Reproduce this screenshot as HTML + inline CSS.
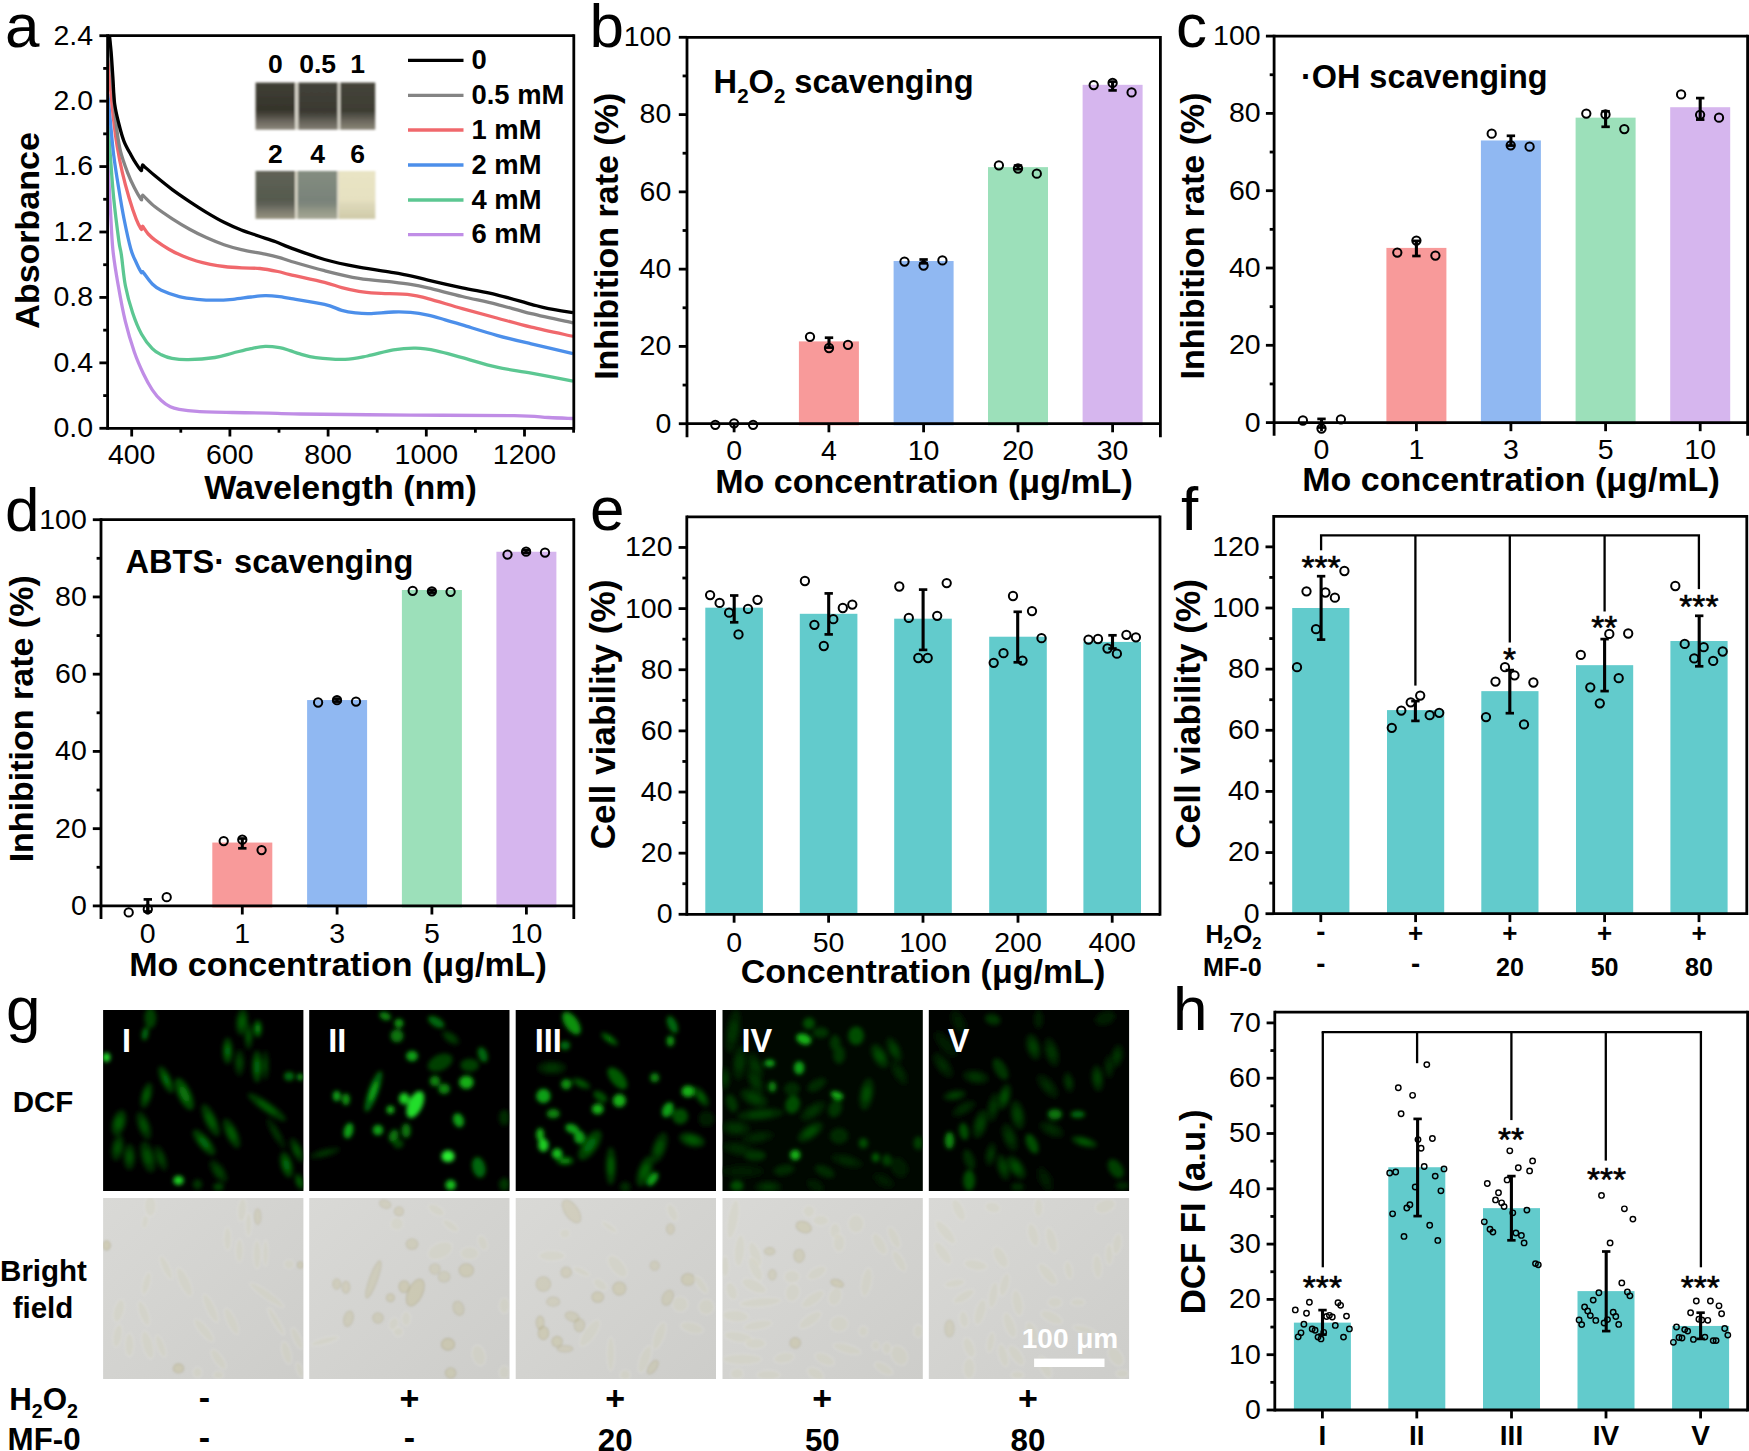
<!DOCTYPE html>
<html lang="en"><head><meta charset="utf-8"><title>Figure</title>
<style>html,body{margin:0;padding:0;background:#fff}svg{display:block}text{font-family:'Liberation Sans', Arial, sans-serif}</style>
</head><body>
<svg width="1749" height="1451" viewBox="0 0 1749 1451">
<rect width="1749" height="1451" fill="#fff"/>
<defs>
<filter id="b2" x="-20%" y="-20%" width="140%" height="140%"><feGaussianBlur stdDeviation="2.1"/></filter>
<filter id="b1" x="-20%" y="-20%" width="140%" height="140%"><feGaussianBlur stdDeviation="0.9"/></filter>
<filter id="b3" x="-20%" y="-20%" width="140%" height="140%"><feGaussianBlur stdDeviation="0.8"/></filter>
<linearGradient id="bfg" x1="0" y1="0" x2="1" y2="1"><stop offset="0" stop-color="#d9d9d6"/><stop offset="1" stop-color="#cdcdca"/></linearGradient>
</defs>
<clipPath id="ca"><rect x="107.6" y="35.7" width="466.2" height="392.6"/></clipPath>
<g clip-path="url(#ca)" fill="none" stroke-width="3.3" stroke-linejoin="round">
<path d="M107.9,162.8C108.3,170.13 109.47,192.28 110.3,206.8C111.13,221.32 111.57,236.73 112.9,249.9C114.23,263.07 116.22,273.83 118.3,285.8C120.38,297.77 122.72,310.63 125.4,321.7C128.08,332.77 131.4,343.53 134.4,352.2C137.4,360.87 140.42,367.43 143.4,373.7C146.38,379.97 149.32,385.33 152.3,389.8C155.28,394.27 158.3,397.67 161.3,400.5C164.3,403.33 167.32,405.33 170.3,406.8C173.28,408.27 174.73,408.55 179.2,409.3C183.67,410.05 188.13,410.77 197.1,411.3C206.07,411.83 221.05,412.2 233,412.5C244.95,412.8 257.63,412.85 268.8,413.1C279.97,413.35 276.37,413.67 300,414C323.63,414.33 374.93,414.83 410.6,415.1C446.27,415.37 491.02,415.2 514,415.6C536.98,416 538.67,417.02 548.5,417.5C558.33,417.98 568.92,418.33 573,418.5" stroke="#C08DE6"/>
<path d="M107.9,121.5C108.3,127.1 109.33,142.32 110.3,155.1C111.27,167.88 112.27,183.85 113.7,198.2C115.13,212.55 117.62,231.73 118.9,241.2C120.18,250.67 120.32,247.57 121.4,255C122.48,262.43 123.53,276.18 125.4,285.8C127.27,295.42 129.9,304.63 132.6,312.7C135.3,320.77 138.32,328.22 141.6,334.2C144.88,340.18 149.02,345.17 152.3,348.6C155.58,352.03 158.02,353.17 161.3,354.8C164.58,356.43 167.52,357.58 172,358.4C176.48,359.22 181.03,359.85 188.2,359.7C195.37,359.55 207.53,358.62 215,357.5C222.47,356.38 227.02,354.48 233,353C238.98,351.52 245.53,349.7 250.9,348.6C256.27,347.5 260.42,346.55 265.2,346.4C269.98,346.25 275.47,347 279.6,347.7C283.73,348.4 286.6,349.57 290,350.6C293.4,351.63 295.7,352.72 300,353.9C304.3,355.08 308.28,356.78 315.8,357.7C323.32,358.62 336.48,359.68 345.1,359.4C353.72,359.12 359.45,357.58 367.5,356C375.55,354.42 385.35,351.2 393.4,349.9C401.45,348.6 408.62,348.05 415.8,348.2C422.98,348.35 428.75,349.22 436.5,350.8C444.25,352.38 452.25,354.97 462.3,357.7C472.35,360.43 485.3,364.62 496.8,367.2C508.3,369.78 518.6,370.88 531.3,373.2C544,375.52 566.05,379.78 573,381.1" stroke="#5CC792"/>
<path d="M107.9,93.9C108.3,98.35 109.33,110.4 110.3,120.6C111.27,130.8 112.27,143.6 113.7,155.1C115.13,166.6 117.18,178.98 118.9,189.6C120.62,200.22 122.02,208.9 124,218.8C125.98,228.7 128.77,241.72 130.8,249C132.83,256.28 134.47,258.63 136.2,262.5C137.93,266.37 140.17,270.68 141.2,272.2C142.23,273.72 141.93,271.4 142.4,271.6C142.87,271.8 142.35,271.33 144,273.4C145.65,275.47 149.42,281.18 152.3,284C155.18,286.82 156.82,288.2 161.3,290.3C165.78,292.4 173.23,295.1 179.2,296.6C185.17,298.1 191.13,298.7 197.1,299.3C203.07,299.9 209.02,300.2 215,300.2C220.98,300.2 227.02,299.83 233,299.3C238.98,298.77 245.53,297.6 250.9,297C256.27,296.4 260.42,295.77 265.2,295.7C269.98,295.63 275.47,296.15 279.6,296.6C283.73,297.05 282.52,297.12 290,298.4C297.48,299.68 315.88,302.32 324.5,304.3C333.12,306.28 336.53,308.87 341.7,310.3C346.87,311.73 350.9,312.33 355.5,312.9C360.1,313.47 362.98,313.85 369.3,313.7C375.62,313.55 386.52,312.22 393.4,312C400.28,311.78 404.85,311.88 410.6,312.4C416.35,312.92 422.15,313.87 427.9,315.1C433.65,316.33 439.37,318.17 445.1,319.8C450.83,321.43 453.68,322.32 462.3,324.9C470.92,327.48 485.3,332.13 496.8,335.3C508.3,338.47 518.6,340.85 531.3,343.9C544,346.95 566.05,351.98 573,353.6" stroke="#4C8FEA"/>
<path d="M107.9,59.4C108.3,63.87 109.33,76 110.3,86.2C111.27,96.4 112.55,110.55 113.7,120.6C114.85,130.65 115.77,137.88 117.2,146.5C118.63,155.12 120.3,163.68 122.3,172.3C124.3,180.92 126.9,190.45 129.2,198.2C131.5,205.95 134.13,213.67 136.1,218.8C138.07,223.93 140.08,227.4 141,229C141.92,230.6 141.33,228.88 141.6,228.4C141.87,227.92 142.2,226.13 142.6,226.1C143,226.07 143.07,226.88 144,228.2C144.93,229.52 146.35,232.02 148.2,234C150.05,235.98 151.65,237.57 155.1,240.1C158.55,242.63 164.3,246.53 168.9,249.2C173.5,251.87 178.1,254.13 182.7,256.1C187.3,258.07 191.9,259.63 196.5,261C201.1,262.37 205.72,263.38 210.3,264.3C214.88,265.22 218.73,265.9 224,266.5C229.27,267.1 235.92,267.57 241.9,267.9C247.88,268.23 253.92,267.9 259.9,268.5C265.88,269.1 272.78,270.48 277.8,271.5C282.82,272.52 282.22,272.78 290,274.6C297.78,276.42 315.88,280.23 324.5,282.4C333.12,284.57 335.97,286.12 341.7,287.6C347.43,289.08 353.15,290.38 358.9,291.3C364.65,292.22 367.58,292.52 376.2,293.1C384.82,293.68 401.98,293.88 410.6,294.8C419.22,295.72 419.28,296.3 427.9,298.6C436.52,300.9 450.82,305.37 462.3,308.6C473.78,311.83 485.3,314.9 496.8,318C508.3,321.1 518.6,324.15 531.3,327.2C544,330.25 566.05,334.78 573,336.3" stroke="#F0686C"/>
<path d="M108.2,20C108.43,23.33 108.97,30.83 109.6,40C110.23,49.17 111.17,63.67 112,75C112.83,86.33 113.77,98.67 114.6,108C115.43,117.33 116,123.73 117,131C118,138.27 118.85,144.72 120.6,151.6C122.35,158.48 125.2,166.27 127.5,172.3C129.8,178.33 132.15,183.32 134.4,187.8C136.65,192.28 139.8,197.5 141,199.2C142.2,200.9 141.33,198.63 141.6,198C141.87,197.37 142.2,195.67 142.6,195.4C143,195.13 141.93,194.5 144,196.4C146.07,198.3 150.28,203.07 155,206.8C159.72,210.53 166.53,215.07 172.3,218.8C178.07,222.53 183.85,226.03 189.6,229.2C195.35,232.37 201.07,235.22 206.8,237.8C212.53,240.38 218.25,242.73 224,244.7C229.75,246.67 234.43,248.02 241.3,249.6C248.17,251.18 258.82,252.87 265.2,254.2C271.58,255.53 275.47,256.47 279.6,257.6C283.73,258.73 282.52,258.82 290,261C297.48,263.18 313.02,267.8 324.5,270.7C335.98,273.6 347.42,276.5 358.9,278.4C370.38,280.3 384.78,281.1 393.4,282.1C402.02,283.1 404.85,283.43 410.6,284.4C416.35,285.37 419.28,285.88 427.9,287.9C436.52,289.92 450.82,293.77 462.3,296.5C473.78,299.23 485.3,301.43 496.8,304.3C508.3,307.17 518.6,310.6 531.3,313.7C544,316.8 566.05,321.37 573,322.9" stroke="#848484"/>
<path d="M107.9,20C108.17,22.67 108.97,30.72 109.5,36C110.03,41.28 110.53,44.78 111.1,51.7C111.67,58.62 112.32,68.88 112.9,77.5C113.48,86.12 113.6,95.65 114.6,103.4C115.6,111.15 117.33,117.68 118.9,124C120.47,130.32 121.98,136.13 124,141.3C126.02,146.47 128.98,151.27 131,155C133.02,158.73 134.43,161.13 136.1,163.7C137.77,166.27 140.08,169.52 141,170.4C141.92,171.28 141.33,169.87 141.6,169C141.87,168.13 142.2,165.67 142.6,165.2C143,164.73 141.93,164.43 144,166.2C146.07,167.97 150.28,171.9 155,175.8C159.72,179.7 166.53,185.3 172.3,189.6C178.07,193.9 183.85,197.77 189.6,201.6C195.35,205.43 201.07,209.15 206.8,212.6C212.53,216.05 218.25,219.4 224,222.3C229.75,225.2 235.55,227.72 241.3,230C247.05,232.28 252.77,234.03 258.5,236C264.23,237.97 270.45,239.87 275.7,241.8C280.95,243.73 281.87,244.65 290,247.6C298.13,250.55 313.02,256.23 324.5,259.5C335.98,262.77 347.42,265.02 358.9,267.2C370.38,269.38 384.78,271.17 393.4,272.6C402.02,274.03 404.85,274.55 410.6,275.8C416.35,277.05 419.28,278.08 427.9,280.1C436.52,282.12 450.82,285.45 462.3,287.9C473.78,290.35 485.3,292.07 496.8,294.8C508.3,297.53 522.68,302 531.3,304.3C539.92,306.6 541.55,307.22 548.5,308.6C555.45,309.98 568.92,311.93 573,312.6" stroke="#000000"/>
</g>
<linearGradient id="vg0" x1="0" y1="0" x2="0" y2="1"><stop offset="0" stop-color="#403f35"/><stop offset="0.58" stop-color="#35342b"/><stop offset="0.68" stop-color="#48463d"/><stop offset="0.8" stop-color="#67635a"/><stop offset="1" stop-color="#8c877b"/></linearGradient>
<linearGradient id="vg1" x1="0" y1="0" x2="0" y2="1"><stop offset="0" stop-color="#43423a"/><stop offset="0.6" stop-color="#3a3931"/><stop offset="0.7" stop-color="#4a4840"/><stop offset="0.82" stop-color="#646158"/><stop offset="1" stop-color="#827e73"/></linearGradient>
<linearGradient id="vg2" x1="0" y1="0" x2="0" y2="1"><stop offset="0" stop-color="#45443a"/><stop offset="0.6" stop-color="#3e3d33"/><stop offset="0.7" stop-color="#535148"/><stop offset="0.82" stop-color="#6d695e"/><stop offset="1" stop-color="#8a8678"/></linearGradient>
<linearGradient id="vg3" x1="0" y1="0" x2="0" y2="1"><stop offset="0" stop-color="#5f6256"/><stop offset="0.6" stop-color="#565a4e"/><stop offset="0.7" stop-color="#606258"/><stop offset="0.82" stop-color="#79786c"/><stop offset="1" stop-color="#95927f"/></linearGradient>
<linearGradient id="vg4" x1="0" y1="0" x2="0" y2="1"><stop offset="0" stop-color="#848d80"/><stop offset="0.6" stop-color="#79837a"/><stop offset="0.7" stop-color="#7f877c"/><stop offset="0.82" stop-color="#929787"/><stop offset="1" stop-color="#a5a795"/></linearGradient>
<linearGradient id="vg5" x1="0" y1="0" x2="0" y2="1"><stop offset="0" stop-color="#e9e4c4"/><stop offset="0.6" stop-color="#e6e1c1"/><stop offset="0.7" stop-color="#ddd8b9"/><stop offset="0.82" stop-color="#d8d3b3"/><stop offset="1" stop-color="#cfcaa8"/></linearGradient>
<g filter="url(#b3)">
<rect x="255.6" y="82.6" width="119.6" height="47" fill="#d6d3c8"/>
<rect x="255.6" y="171" width="119.6" height="47.8" fill="#dad7c8"/>
<rect x="255.6" y="82.6" width="39.4" height="47" fill="url(#vg0)"/>
<rect x="298.4" y="82.6" width="39.2" height="47" fill="url(#vg1)"/>
<rect x="340.4" y="82.6" width="34.8" height="47" fill="url(#vg2)"/>
<rect x="255.6" y="171" width="39.4" height="47.8" fill="url(#vg3)"/>
<rect x="297.6" y="171" width="39.4" height="47.8" fill="url(#vg4)"/>
<rect x="339" y="171" width="36.2" height="47.8" fill="url(#vg5)"/>
</g>
<text x="275.3" y="73.2" font-size="26.5" text-anchor="middle" font-weight="700">0</text>
<text x="317.6" y="73.2" font-size="26.5" text-anchor="middle" font-weight="700">0.5</text>
<text x="357.6" y="73.2" font-size="26.5" text-anchor="middle" font-weight="700">1</text>
<text x="275.3" y="163" font-size="26.5" text-anchor="middle" font-weight="700">2</text>
<text x="317.6" y="163" font-size="26.5" text-anchor="middle" font-weight="700">4</text>
<text x="357.6" y="163" font-size="26.5" text-anchor="middle" font-weight="700">6</text>
<line x1="408" y1="60.3" x2="463.5" y2="60.3" stroke="#000000" stroke-width="3.3"/>
<text x="471.5" y="69" font-size="27.4" font-weight="700">0</text>
<line x1="408" y1="95.3" x2="463.5" y2="95.3" stroke="#848484" stroke-width="3.3"/>
<text x="471.5" y="104" font-size="27.4" font-weight="700">0.5 mM</text>
<line x1="408" y1="130" x2="463.5" y2="130" stroke="#F0686C" stroke-width="3.3"/>
<text x="471.5" y="138.7" font-size="27.4" font-weight="700">1 mM</text>
<line x1="408" y1="165" x2="463.5" y2="165" stroke="#4C8FEA" stroke-width="3.3"/>
<text x="471.5" y="173.7" font-size="27.4" font-weight="700">2 mM</text>
<line x1="408" y1="200" x2="463.5" y2="200" stroke="#5CC792" stroke-width="3.3"/>
<text x="471.5" y="208.7" font-size="27.4" font-weight="700">4 mM</text>
<line x1="408" y1="234.6" x2="463.5" y2="234.6" stroke="#C08DE6" stroke-width="3.3"/>
<text x="471.5" y="243.3" font-size="27.4" font-weight="700">6 mM</text>
<line x1="107.6" y1="34.3" x2="107.6" y2="429.7" stroke="#000" stroke-width="2.8"/>
<line x1="573.8" y1="34.3" x2="573.8" y2="429.7" stroke="#000" stroke-width="2.8"/>
<line x1="107.6" y1="35.7" x2="573.8" y2="35.7" stroke="#000" stroke-width="2.8"/>
<line x1="107.6" y1="428.3" x2="573.8" y2="428.3" stroke="#000" stroke-width="2.8"/>
<line x1="99.4" y1="428.3" x2="107.6" y2="428.3" stroke="#000" stroke-width="2.8"/>
<text x="93.1" y="437.2" font-size="28.5" text-anchor="end">0.0</text>
<line x1="103.2" y1="395.58" x2="107.6" y2="395.58" stroke="#000" stroke-width="2.8"/>
<line x1="99.4" y1="362.87" x2="107.6" y2="362.87" stroke="#000" stroke-width="2.8"/>
<text x="93.1" y="371.77" font-size="28.5" text-anchor="end">0.4</text>
<line x1="103.2" y1="330.15" x2="107.6" y2="330.15" stroke="#000" stroke-width="2.8"/>
<line x1="99.4" y1="297.43" x2="107.6" y2="297.43" stroke="#000" stroke-width="2.8"/>
<text x="93.1" y="306.33" font-size="28.5" text-anchor="end">0.8</text>
<line x1="103.2" y1="264.72" x2="107.6" y2="264.72" stroke="#000" stroke-width="2.8"/>
<line x1="99.4" y1="232" x2="107.6" y2="232" stroke="#000" stroke-width="2.8"/>
<text x="93.1" y="240.9" font-size="28.5" text-anchor="end">1.2</text>
<line x1="103.2" y1="199.28" x2="107.6" y2="199.28" stroke="#000" stroke-width="2.8"/>
<line x1="99.4" y1="166.57" x2="107.6" y2="166.57" stroke="#000" stroke-width="2.8"/>
<text x="93.1" y="175.47" font-size="28.5" text-anchor="end">1.6</text>
<line x1="103.2" y1="133.85" x2="107.6" y2="133.85" stroke="#000" stroke-width="2.8"/>
<line x1="99.4" y1="101.13" x2="107.6" y2="101.13" stroke="#000" stroke-width="2.8"/>
<text x="93.1" y="110.03" font-size="28.5" text-anchor="end">2.0</text>
<line x1="103.2" y1="68.42" x2="107.6" y2="68.42" stroke="#000" stroke-width="2.8"/>
<line x1="99.4" y1="35.7" x2="107.6" y2="35.7" stroke="#000" stroke-width="2.8"/>
<text x="93.1" y="44.6" font-size="28.5" text-anchor="end">2.4</text>
<line x1="131.7" y1="428.3" x2="131.7" y2="436.5" stroke="#000" stroke-width="2.8"/>
<text x="131.7" y="464.2" font-size="28.5" text-anchor="middle">400</text>
<line x1="229.9" y1="428.3" x2="229.9" y2="436.5" stroke="#000" stroke-width="2.8"/>
<text x="229.9" y="464.2" font-size="28.5" text-anchor="middle">600</text>
<line x1="328.1" y1="428.3" x2="328.1" y2="436.5" stroke="#000" stroke-width="2.8"/>
<text x="328.1" y="464.2" font-size="28.5" text-anchor="middle">800</text>
<line x1="426.3" y1="428.3" x2="426.3" y2="436.5" stroke="#000" stroke-width="2.8"/>
<text x="426.3" y="464.2" font-size="28.5" text-anchor="middle">1000</text>
<line x1="524.5" y1="428.3" x2="524.5" y2="436.5" stroke="#000" stroke-width="2.8"/>
<text x="524.5" y="464.2" font-size="28.5" text-anchor="middle">1200</text>
<line x1="180.8" y1="428.3" x2="180.8" y2="432.7" stroke="#000" stroke-width="2.8"/>
<line x1="279" y1="428.3" x2="279" y2="432.7" stroke="#000" stroke-width="2.8"/>
<line x1="377.2" y1="428.3" x2="377.2" y2="432.7" stroke="#000" stroke-width="2.8"/>
<line x1="475.4" y1="428.3" x2="475.4" y2="432.7" stroke="#000" stroke-width="2.8"/>
<line x1="573.6" y1="428.3" x2="573.6" y2="432.7" stroke="#000" stroke-width="2.8"/>
<text x="340.6" y="499.4" font-size="34" text-anchor="middle" font-weight="700">Wavelength (nm)</text>
<text x="39.2" y="230.4" font-size="34" text-anchor="middle" font-weight="700" transform="rotate(-90 39.2 230.4)">Absorbance</text>
<text x="5" y="46.5" font-size="62">a</text>
<rect x="798.9" y="341.4" width="60" height="83.9" fill="#F89A9A"/>
<rect x="893.6" y="261.03" width="60" height="164.27" fill="#90B8F2"/>
<rect x="988" y="167.13" width="60" height="258.17" fill="#9CE0BA"/>
<rect x="1082.6" y="84.83" width="60" height="340.47" fill="#D6B6EE"/>
<line x1="687" y1="35.9" x2="687" y2="437.2" stroke="#000" stroke-width="2.8"/>
<line x1="1160.4" y1="35.9" x2="1160.4" y2="437.2" stroke="#000" stroke-width="2.8"/>
<line x1="687" y1="37.3" x2="1160.4" y2="37.3" stroke="#000" stroke-width="2.8"/>
<line x1="687" y1="423.7" x2="1160.4" y2="423.7" stroke="#000" stroke-width="2.8"/>
<line x1="678.8" y1="423.7" x2="687" y2="423.7" stroke="#000" stroke-width="2.8"/>
<text x="671.3" y="432.6" font-size="28.5" text-anchor="end">0</text>
<line x1="682.6" y1="385.06" x2="687" y2="385.06" stroke="#000" stroke-width="2.8"/>
<line x1="678.8" y1="346.42" x2="687" y2="346.42" stroke="#000" stroke-width="2.8"/>
<text x="671.3" y="355.32" font-size="28.5" text-anchor="end">20</text>
<line x1="682.6" y1="307.78" x2="687" y2="307.78" stroke="#000" stroke-width="2.8"/>
<line x1="678.8" y1="269.14" x2="687" y2="269.14" stroke="#000" stroke-width="2.8"/>
<text x="671.3" y="278.04" font-size="28.5" text-anchor="end">40</text>
<line x1="682.6" y1="230.5" x2="687" y2="230.5" stroke="#000" stroke-width="2.8"/>
<line x1="678.8" y1="191.86" x2="687" y2="191.86" stroke="#000" stroke-width="2.8"/>
<text x="671.3" y="200.76" font-size="28.5" text-anchor="end">60</text>
<line x1="682.6" y1="153.22" x2="687" y2="153.22" stroke="#000" stroke-width="2.8"/>
<line x1="678.8" y1="114.58" x2="687" y2="114.58" stroke="#000" stroke-width="2.8"/>
<text x="671.3" y="123.48" font-size="28.5" text-anchor="end">80</text>
<line x1="682.6" y1="75.94" x2="687" y2="75.94" stroke="#000" stroke-width="2.8"/>
<line x1="678.8" y1="37.3" x2="687" y2="37.3" stroke="#000" stroke-width="2.8"/>
<text x="671.3" y="46.2" font-size="28.5" text-anchor="end">100</text>
<line x1="734.1" y1="423.7" x2="734.1" y2="432.3" stroke="#000" stroke-width="2.8"/>
<text x="734.1" y="459.8" font-size="28.5" text-anchor="middle">0</text>
<line x1="828.9" y1="423.7" x2="828.9" y2="432.3" stroke="#000" stroke-width="2.8"/>
<text x="828.9" y="459.8" font-size="28.5" text-anchor="middle">4</text>
<line x1="923.6" y1="423.7" x2="923.6" y2="432.3" stroke="#000" stroke-width="2.8"/>
<text x="923.6" y="459.8" font-size="28.5" text-anchor="middle">10</text>
<line x1="1018" y1="423.7" x2="1018" y2="432.3" stroke="#000" stroke-width="2.8"/>
<text x="1018" y="459.8" font-size="28.5" text-anchor="middle">20</text>
<line x1="1112.6" y1="423.7" x2="1112.6" y2="432.3" stroke="#000" stroke-width="2.8"/>
<text x="1112.6" y="459.8" font-size="28.5" text-anchor="middle">30</text>
<line x1="829" y1="337.7" x2="829" y2="347.6" stroke="#000" stroke-width="3.1"/>
<line x1="824.8" y1="337.7" x2="833.2" y2="337.7" stroke="#000" stroke-width="2.7"/>
<line x1="824.8" y1="347.6" x2="833.2" y2="347.6" stroke="#000" stroke-width="2.7"/>
<line x1="923.6" y1="259.5" x2="923.6" y2="263.3" stroke="#000" stroke-width="3.1"/>
<line x1="919.4" y1="259.5" x2="927.8" y2="259.5" stroke="#000" stroke-width="2.7"/>
<line x1="919.4" y1="263.3" x2="927.8" y2="263.3" stroke="#000" stroke-width="2.7"/>
<line x1="1018" y1="165.6" x2="1018" y2="169.2" stroke="#000" stroke-width="3.1"/>
<line x1="1013.8" y1="165.6" x2="1022.2" y2="165.6" stroke="#000" stroke-width="2.7"/>
<line x1="1013.8" y1="169.2" x2="1022.2" y2="169.2" stroke="#000" stroke-width="2.7"/>
<line x1="1112.6" y1="81.6" x2="1112.6" y2="90.4" stroke="#000" stroke-width="3.1"/>
<line x1="1108.4" y1="81.6" x2="1116.8" y2="81.6" stroke="#000" stroke-width="2.7"/>
<line x1="1108.4" y1="90.4" x2="1116.8" y2="90.4" stroke="#000" stroke-width="2.7"/>
<circle cx="715.3" cy="424.8" r="4.15" fill="none" stroke="#000" stroke-width="2"/>
<circle cx="734.1" cy="423.3" r="4.15" fill="none" stroke="#000" stroke-width="2"/>
<circle cx="753.1" cy="424.8" r="4.15" fill="none" stroke="#000" stroke-width="2"/>
<circle cx="810" cy="336.8" r="4.15" fill="none" stroke="#000" stroke-width="2"/>
<circle cx="829" cy="348" r="4.15" fill="none" stroke="#000" stroke-width="2"/>
<circle cx="848" cy="344.8" r="4.15" fill="none" stroke="#000" stroke-width="2"/>
<circle cx="904.5" cy="261.6" r="4.15" fill="none" stroke="#000" stroke-width="2"/>
<circle cx="923.6" cy="265.6" r="4.15" fill="none" stroke="#000" stroke-width="2"/>
<circle cx="942.4" cy="260.4" r="4.15" fill="none" stroke="#000" stroke-width="2"/>
<circle cx="998.9" cy="165.3" r="4.15" fill="none" stroke="#000" stroke-width="2"/>
<circle cx="1018" cy="168.5" r="4.15" fill="none" stroke="#000" stroke-width="2"/>
<circle cx="1036.8" cy="173.7" r="4.15" fill="none" stroke="#000" stroke-width="2"/>
<circle cx="1093.7" cy="85.1" r="4.15" fill="none" stroke="#000" stroke-width="2"/>
<circle cx="1112.6" cy="82.9" r="4.15" fill="none" stroke="#000" stroke-width="2"/>
<circle cx="1131.6" cy="92.4" r="4.15" fill="none" stroke="#000" stroke-width="2"/>
<text x="713.6" y="92.6" font-size="32.6" font-weight="700">H<tspan font-size="20.5" dy="10">2</tspan><tspan dy="-10">O</tspan><tspan font-size="20.5" dy="10">2</tspan><tspan dy="-10"> scavenging</tspan></text>
<text x="924" y="493.2" font-size="34" text-anchor="middle" font-weight="700">Mo concentration (μg/mL)</text>
<text x="618" y="236.3" font-size="34" text-anchor="middle" font-weight="700" transform="rotate(-90 618 236.3)">Inhibition rate (%)</text>
<text x="589.5" y="46.5" font-size="62">b</text>
<rect x="1386.4" y="247.9" width="60" height="176.3" fill="#F89A9A"/>
<rect x="1480.9" y="140.45" width="60" height="283.75" fill="#90B8F2"/>
<rect x="1575.6" y="117.65" width="60" height="306.55" fill="#9CE0BA"/>
<rect x="1670.2" y="107.22" width="60" height="316.98" fill="#D6B6EE"/>
<line x1="1274.1" y1="34.7" x2="1274.1" y2="435.8" stroke="#000" stroke-width="2.8"/>
<line x1="1747.6" y1="34.7" x2="1747.6" y2="435.8" stroke="#000" stroke-width="2.8"/>
<line x1="1274.1" y1="36.1" x2="1747.6" y2="36.1" stroke="#000" stroke-width="2.8"/>
<line x1="1274.1" y1="422.6" x2="1747.6" y2="422.6" stroke="#000" stroke-width="2.8"/>
<line x1="1265.9" y1="422.6" x2="1274.1" y2="422.6" stroke="#000" stroke-width="2.8"/>
<text x="1260.6" y="431.5" font-size="28.5" text-anchor="end">0</text>
<line x1="1269.7" y1="383.95" x2="1274.1" y2="383.95" stroke="#000" stroke-width="2.8"/>
<line x1="1265.9" y1="345.3" x2="1274.1" y2="345.3" stroke="#000" stroke-width="2.8"/>
<text x="1260.6" y="354.2" font-size="28.5" text-anchor="end">20</text>
<line x1="1269.7" y1="306.65" x2="1274.1" y2="306.65" stroke="#000" stroke-width="2.8"/>
<line x1="1265.9" y1="268" x2="1274.1" y2="268" stroke="#000" stroke-width="2.8"/>
<text x="1260.6" y="276.9" font-size="28.5" text-anchor="end">40</text>
<line x1="1269.7" y1="229.35" x2="1274.1" y2="229.35" stroke="#000" stroke-width="2.8"/>
<line x1="1265.9" y1="190.7" x2="1274.1" y2="190.7" stroke="#000" stroke-width="2.8"/>
<text x="1260.6" y="199.6" font-size="28.5" text-anchor="end">60</text>
<line x1="1269.7" y1="152.05" x2="1274.1" y2="152.05" stroke="#000" stroke-width="2.8"/>
<line x1="1265.9" y1="113.4" x2="1274.1" y2="113.4" stroke="#000" stroke-width="2.8"/>
<text x="1260.6" y="122.3" font-size="28.5" text-anchor="end">80</text>
<line x1="1269.7" y1="74.75" x2="1274.1" y2="74.75" stroke="#000" stroke-width="2.8"/>
<line x1="1265.9" y1="36.1" x2="1274.1" y2="36.1" stroke="#000" stroke-width="2.8"/>
<text x="1260.6" y="45" font-size="28.5" text-anchor="end">100</text>
<line x1="1321.5" y1="422.6" x2="1321.5" y2="431.2" stroke="#000" stroke-width="2.8"/>
<text x="1321.5" y="458.8" font-size="28.5" text-anchor="middle">0</text>
<line x1="1416.4" y1="422.6" x2="1416.4" y2="431.2" stroke="#000" stroke-width="2.8"/>
<text x="1416.4" y="458.8" font-size="28.5" text-anchor="middle">1</text>
<line x1="1510.9" y1="422.6" x2="1510.9" y2="431.2" stroke="#000" stroke-width="2.8"/>
<text x="1510.9" y="458.8" font-size="28.5" text-anchor="middle">3</text>
<line x1="1605.6" y1="422.6" x2="1605.6" y2="431.2" stroke="#000" stroke-width="2.8"/>
<text x="1605.6" y="458.8" font-size="28.5" text-anchor="middle">5</text>
<line x1="1700.2" y1="422.6" x2="1700.2" y2="431.2" stroke="#000" stroke-width="2.8"/>
<text x="1700.2" y="458.8" font-size="28.5" text-anchor="middle">10</text>
<line x1="1321.5" y1="418.9" x2="1321.5" y2="427.5" stroke="#000" stroke-width="3.1"/>
<line x1="1317.3" y1="418.9" x2="1325.7" y2="418.9" stroke="#000" stroke-width="2.7"/>
<line x1="1317.3" y1="427.5" x2="1325.7" y2="427.5" stroke="#000" stroke-width="2.7"/>
<line x1="1416.4" y1="240.9" x2="1416.4" y2="256" stroke="#000" stroke-width="3.1"/>
<line x1="1412.2" y1="240.9" x2="1420.6" y2="240.9" stroke="#000" stroke-width="2.7"/>
<line x1="1412.2" y1="256" x2="1420.6" y2="256" stroke="#000" stroke-width="2.7"/>
<line x1="1510.9" y1="135.8" x2="1510.9" y2="145.6" stroke="#000" stroke-width="3.1"/>
<line x1="1506.7" y1="135.8" x2="1515.1" y2="135.8" stroke="#000" stroke-width="2.7"/>
<line x1="1506.7" y1="145.6" x2="1515.1" y2="145.6" stroke="#000" stroke-width="2.7"/>
<line x1="1605.6" y1="111.3" x2="1605.6" y2="126.8" stroke="#000" stroke-width="3.1"/>
<line x1="1601.4" y1="111.3" x2="1609.8" y2="111.3" stroke="#000" stroke-width="2.7"/>
<line x1="1601.4" y1="126.8" x2="1609.8" y2="126.8" stroke="#000" stroke-width="2.7"/>
<line x1="1700.2" y1="98.1" x2="1700.2" y2="119.6" stroke="#000" stroke-width="3.1"/>
<line x1="1696" y1="98.1" x2="1704.4" y2="98.1" stroke="#000" stroke-width="2.7"/>
<line x1="1696" y1="119.6" x2="1704.4" y2="119.6" stroke="#000" stroke-width="2.7"/>
<circle cx="1302.9" cy="420.5" r="4.15" fill="none" stroke="#000" stroke-width="2"/>
<circle cx="1321.5" cy="428.5" r="4.15" fill="none" stroke="#000" stroke-width="2"/>
<circle cx="1340.9" cy="419.3" r="4.15" fill="none" stroke="#000" stroke-width="2"/>
<circle cx="1397.3" cy="252.6" r="4.15" fill="none" stroke="#000" stroke-width="2"/>
<circle cx="1416.4" cy="240.6" r="4.15" fill="none" stroke="#000" stroke-width="2"/>
<circle cx="1435.4" cy="255.6" r="4.15" fill="none" stroke="#000" stroke-width="2"/>
<circle cx="1491.7" cy="133.7" r="4.15" fill="none" stroke="#000" stroke-width="2"/>
<circle cx="1510.7" cy="145.3" r="4.15" fill="none" stroke="#000" stroke-width="2"/>
<circle cx="1529.6" cy="146.7" r="4.15" fill="none" stroke="#000" stroke-width="2"/>
<circle cx="1586.3" cy="113.6" r="4.15" fill="none" stroke="#000" stroke-width="2"/>
<circle cx="1605.5" cy="114.4" r="4.15" fill="none" stroke="#000" stroke-width="2"/>
<circle cx="1624.3" cy="129.1" r="4.15" fill="none" stroke="#000" stroke-width="2"/>
<circle cx="1681.1" cy="94.4" r="4.15" fill="none" stroke="#000" stroke-width="2"/>
<circle cx="1700.1" cy="114.8" r="4.15" fill="none" stroke="#000" stroke-width="2"/>
<circle cx="1719" cy="117.7" r="4.15" fill="none" stroke="#000" stroke-width="2"/>
<text x="1301" y="88.2" font-size="32.4" font-weight="700">·OH scavenging</text>
<text x="1511" y="490.9" font-size="34" text-anchor="middle" font-weight="700">Mo concentration (μg/mL)</text>
<text x="1203.6" y="236" font-size="34" text-anchor="middle" font-weight="700" transform="rotate(-90 1203.6 236)">Inhibition rate (%)</text>
<text x="1176" y="46.5" font-size="62">c</text>
<rect x="212.3" y="842.56" width="60" height="64.94" fill="#F89A9A"/>
<rect x="307.1" y="700.06" width="60" height="207.44" fill="#90B8F2"/>
<rect x="401.9" y="589.99" width="60" height="317.51" fill="#9CE0BA"/>
<rect x="496.4" y="551.75" width="60" height="355.75" fill="#D6B6EE"/>
<line x1="101" y1="518.3" x2="101" y2="919.1" stroke="#000" stroke-width="2.8"/>
<line x1="573.8" y1="518.3" x2="573.8" y2="919.1" stroke="#000" stroke-width="2.8"/>
<line x1="101" y1="519.7" x2="573.8" y2="519.7" stroke="#000" stroke-width="2.8"/>
<line x1="101" y1="905.9" x2="573.8" y2="905.9" stroke="#000" stroke-width="2.8"/>
<line x1="92.8" y1="905.9" x2="101" y2="905.9" stroke="#000" stroke-width="2.8"/>
<text x="86.8" y="914.8" font-size="28.5" text-anchor="end">0</text>
<line x1="96.6" y1="867.28" x2="101" y2="867.28" stroke="#000" stroke-width="2.8"/>
<line x1="92.8" y1="828.66" x2="101" y2="828.66" stroke="#000" stroke-width="2.8"/>
<text x="86.8" y="837.56" font-size="28.5" text-anchor="end">20</text>
<line x1="96.6" y1="790.04" x2="101" y2="790.04" stroke="#000" stroke-width="2.8"/>
<line x1="92.8" y1="751.42" x2="101" y2="751.42" stroke="#000" stroke-width="2.8"/>
<text x="86.8" y="760.32" font-size="28.5" text-anchor="end">40</text>
<line x1="96.6" y1="712.8" x2="101" y2="712.8" stroke="#000" stroke-width="2.8"/>
<line x1="92.8" y1="674.18" x2="101" y2="674.18" stroke="#000" stroke-width="2.8"/>
<text x="86.8" y="683.08" font-size="28.5" text-anchor="end">60</text>
<line x1="96.6" y1="635.56" x2="101" y2="635.56" stroke="#000" stroke-width="2.8"/>
<line x1="92.8" y1="596.94" x2="101" y2="596.94" stroke="#000" stroke-width="2.8"/>
<text x="86.8" y="605.84" font-size="28.5" text-anchor="end">80</text>
<line x1="96.6" y1="558.32" x2="101" y2="558.32" stroke="#000" stroke-width="2.8"/>
<line x1="92.8" y1="519.7" x2="101" y2="519.7" stroke="#000" stroke-width="2.8"/>
<text x="86.8" y="528.6" font-size="28.5" text-anchor="end">100</text>
<line x1="147.8" y1="905.9" x2="147.8" y2="914.5" stroke="#000" stroke-width="2.8"/>
<text x="147.8" y="942.8" font-size="28.5" text-anchor="middle">0</text>
<line x1="242.3" y1="905.9" x2="242.3" y2="914.5" stroke="#000" stroke-width="2.8"/>
<text x="242.3" y="942.8" font-size="28.5" text-anchor="middle">1</text>
<line x1="337.1" y1="905.9" x2="337.1" y2="914.5" stroke="#000" stroke-width="2.8"/>
<text x="337.1" y="942.8" font-size="28.5" text-anchor="middle">3</text>
<line x1="431.9" y1="905.9" x2="431.9" y2="914.5" stroke="#000" stroke-width="2.8"/>
<text x="431.9" y="942.8" font-size="28.5" text-anchor="middle">5</text>
<line x1="526.4" y1="905.9" x2="526.4" y2="914.5" stroke="#000" stroke-width="2.8"/>
<text x="526.4" y="942.8" font-size="28.5" text-anchor="middle">10</text>
<line x1="147.8" y1="899.4" x2="147.8" y2="911.5" stroke="#000" stroke-width="3.1"/>
<line x1="143.6" y1="899.4" x2="152" y2="899.4" stroke="#000" stroke-width="2.7"/>
<line x1="143.6" y1="911.5" x2="152" y2="911.5" stroke="#000" stroke-width="2.7"/>
<line x1="242.3" y1="838.5" x2="242.3" y2="848.3" stroke="#000" stroke-width="3.1"/>
<line x1="238.1" y1="838.5" x2="246.5" y2="838.5" stroke="#000" stroke-width="2.7"/>
<line x1="238.1" y1="848.3" x2="246.5" y2="848.3" stroke="#000" stroke-width="2.7"/>
<line x1="337" y1="698.6" x2="337" y2="701.6" stroke="#000" stroke-width="3.1"/>
<line x1="332.8" y1="698.6" x2="341.2" y2="698.6" stroke="#000" stroke-width="2.7"/>
<line x1="332.8" y1="701.6" x2="341.2" y2="701.6" stroke="#000" stroke-width="2.7"/>
<line x1="431.9" y1="589.8" x2="431.9" y2="592.6" stroke="#000" stroke-width="3.1"/>
<line x1="427.7" y1="589.8" x2="436.1" y2="589.8" stroke="#000" stroke-width="2.7"/>
<line x1="427.7" y1="592.6" x2="436.1" y2="592.6" stroke="#000" stroke-width="2.7"/>
<line x1="526.1" y1="550.2" x2="526.1" y2="553" stroke="#000" stroke-width="3.1"/>
<line x1="521.9" y1="550.2" x2="530.3" y2="550.2" stroke="#000" stroke-width="2.7"/>
<line x1="521.9" y1="553" x2="530.3" y2="553" stroke="#000" stroke-width="2.7"/>
<circle cx="128.7" cy="912.4" r="4.15" fill="none" stroke="#000" stroke-width="2"/>
<circle cx="147.8" cy="909.2" r="4.15" fill="none" stroke="#000" stroke-width="2"/>
<circle cx="166.7" cy="897.2" r="4.15" fill="none" stroke="#000" stroke-width="2"/>
<circle cx="223.7" cy="841.1" r="4.15" fill="none" stroke="#000" stroke-width="2"/>
<circle cx="242.3" cy="839.7" r="4.15" fill="none" stroke="#000" stroke-width="2"/>
<circle cx="261.6" cy="850.1" r="4.15" fill="none" stroke="#000" stroke-width="2"/>
<circle cx="318.1" cy="702.5" r="4.15" fill="none" stroke="#000" stroke-width="2"/>
<circle cx="337" cy="700.2" r="4.15" fill="none" stroke="#000" stroke-width="2"/>
<circle cx="356" cy="701.6" r="4.15" fill="none" stroke="#000" stroke-width="2"/>
<circle cx="412.7" cy="590.8" r="4.15" fill="none" stroke="#000" stroke-width="2"/>
<circle cx="431.9" cy="591.3" r="4.15" fill="none" stroke="#000" stroke-width="2"/>
<circle cx="450.6" cy="591.8" r="4.15" fill="none" stroke="#000" stroke-width="2"/>
<circle cx="507.5" cy="554.6" r="4.15" fill="none" stroke="#000" stroke-width="2"/>
<circle cx="526.1" cy="551.7" r="4.15" fill="none" stroke="#000" stroke-width="2"/>
<circle cx="545" cy="552.6" r="4.15" fill="none" stroke="#000" stroke-width="2"/>
<text x="125.5" y="573.4" font-size="32.6" font-weight="700">ABTS· scavenging</text>
<text x="338" y="976.4" font-size="34" text-anchor="middle" font-weight="700">Mo concentration (μg/mL)</text>
<text x="32.7" y="718.8" font-size="34" text-anchor="middle" font-weight="700" transform="rotate(-90 32.7 718.8)">Inhibition rate (%)</text>
<text x="5" y="530.5" font-size="62">d</text>
<rect x="705.3" y="607.68" width="57.6" height="306.62" fill="#62CBCC"/>
<rect x="799.8" y="613.8" width="57.6" height="300.5" fill="#62CBCC"/>
<rect x="894.2" y="618.69" width="57.6" height="295.61" fill="#62CBCC"/>
<rect x="989.2" y="636.72" width="57.6" height="277.58" fill="#62CBCC"/>
<rect x="1083.4" y="641.92" width="57.6" height="272.38" fill="#62CBCC"/>
<line x1="686.8" y1="515.4" x2="686.8" y2="915.7" stroke="#000" stroke-width="2.8"/>
<line x1="1160" y1="515.4" x2="1160" y2="915.7" stroke="#000" stroke-width="2.8"/>
<line x1="686.8" y1="516.8" x2="1160" y2="516.8" stroke="#000" stroke-width="2.8"/>
<line x1="686.8" y1="914.3" x2="1160" y2="914.3" stroke="#000" stroke-width="2.8"/>
<line x1="678.6" y1="914.3" x2="686.8" y2="914.3" stroke="#000" stroke-width="2.8"/>
<text x="672.5" y="923.2" font-size="28.5" text-anchor="end">0</text>
<line x1="682.4" y1="883.73" x2="686.8" y2="883.73" stroke="#000" stroke-width="2.8"/>
<line x1="678.6" y1="853.16" x2="686.8" y2="853.16" stroke="#000" stroke-width="2.8"/>
<text x="672.5" y="862.06" font-size="28.5" text-anchor="end">20</text>
<line x1="682.4" y1="822.59" x2="686.8" y2="822.59" stroke="#000" stroke-width="2.8"/>
<line x1="678.6" y1="792.02" x2="686.8" y2="792.02" stroke="#000" stroke-width="2.8"/>
<text x="672.5" y="800.92" font-size="28.5" text-anchor="end">40</text>
<line x1="682.4" y1="761.45" x2="686.8" y2="761.45" stroke="#000" stroke-width="2.8"/>
<line x1="678.6" y1="730.88" x2="686.8" y2="730.88" stroke="#000" stroke-width="2.8"/>
<text x="672.5" y="739.78" font-size="28.5" text-anchor="end">60</text>
<line x1="682.4" y1="700.31" x2="686.8" y2="700.31" stroke="#000" stroke-width="2.8"/>
<line x1="678.6" y1="669.74" x2="686.8" y2="669.74" stroke="#000" stroke-width="2.8"/>
<text x="672.5" y="678.64" font-size="28.5" text-anchor="end">80</text>
<line x1="682.4" y1="639.17" x2="686.8" y2="639.17" stroke="#000" stroke-width="2.8"/>
<line x1="678.6" y1="608.6" x2="686.8" y2="608.6" stroke="#000" stroke-width="2.8"/>
<text x="672.5" y="617.5" font-size="28.5" text-anchor="end">100</text>
<line x1="682.4" y1="578.03" x2="686.8" y2="578.03" stroke="#000" stroke-width="2.8"/>
<line x1="678.6" y1="547.46" x2="686.8" y2="547.46" stroke="#000" stroke-width="2.8"/>
<text x="672.5" y="556.36" font-size="28.5" text-anchor="end">120</text>
<line x1="734.1" y1="914.3" x2="734.1" y2="922.7" stroke="#000" stroke-width="2.8"/>
<line x1="828.6" y1="914.3" x2="828.6" y2="922.7" stroke="#000" stroke-width="2.8"/>
<line x1="923" y1="914.3" x2="923" y2="922.7" stroke="#000" stroke-width="2.8"/>
<line x1="1018" y1="914.3" x2="1018" y2="922.7" stroke="#000" stroke-width="2.8"/>
<line x1="1112.2" y1="914.3" x2="1112.2" y2="922.7" stroke="#000" stroke-width="2.8"/>
<line x1="734.2" y1="595.5" x2="734.2" y2="622.3" stroke="#000" stroke-width="3.1"/>
<line x1="730" y1="595.5" x2="738.4" y2="595.5" stroke="#000" stroke-width="2.7"/>
<line x1="730" y1="622.3" x2="738.4" y2="622.3" stroke="#000" stroke-width="2.7"/>
<line x1="828.7" y1="593.4" x2="828.7" y2="634.4" stroke="#000" stroke-width="3.1"/>
<line x1="824.5" y1="593.4" x2="832.9" y2="593.4" stroke="#000" stroke-width="2.7"/>
<line x1="824.5" y1="634.4" x2="832.9" y2="634.4" stroke="#000" stroke-width="2.7"/>
<line x1="923.1" y1="589.6" x2="923.1" y2="649.9" stroke="#000" stroke-width="3.1"/>
<line x1="918.9" y1="589.6" x2="927.3" y2="589.6" stroke="#000" stroke-width="2.7"/>
<line x1="918.9" y1="649.9" x2="927.3" y2="649.9" stroke="#000" stroke-width="2.7"/>
<line x1="1017.7" y1="611.8" x2="1017.7" y2="662.3" stroke="#000" stroke-width="3.1"/>
<line x1="1013.5" y1="611.8" x2="1021.9" y2="611.8" stroke="#000" stroke-width="2.7"/>
<line x1="1013.5" y1="662.3" x2="1021.9" y2="662.3" stroke="#000" stroke-width="2.7"/>
<line x1="1112.5" y1="635.3" x2="1112.5" y2="648.5" stroke="#000" stroke-width="3.1"/>
<line x1="1108.3" y1="635.3" x2="1116.7" y2="635.3" stroke="#000" stroke-width="2.7"/>
<line x1="1108.3" y1="648.5" x2="1116.7" y2="648.5" stroke="#000" stroke-width="2.7"/>
<circle cx="710.1" cy="595.1" r="4.15" fill="none" stroke="#000" stroke-width="2"/>
<circle cx="719.6" cy="602.9" r="4.15" fill="none" stroke="#000" stroke-width="2"/>
<circle cx="729.1" cy="612.7" r="4.15" fill="none" stroke="#000" stroke-width="2"/>
<circle cx="738.5" cy="634.4" r="4.15" fill="none" stroke="#000" stroke-width="2"/>
<circle cx="748" cy="608.9" r="4.15" fill="none" stroke="#000" stroke-width="2"/>
<circle cx="757.5" cy="599.8" r="4.15" fill="none" stroke="#000" stroke-width="2"/>
<circle cx="804.9" cy="581" r="4.15" fill="none" stroke="#000" stroke-width="2"/>
<circle cx="814.4" cy="624.8" r="4.15" fill="none" stroke="#000" stroke-width="2"/>
<circle cx="823.8" cy="646" r="4.15" fill="none" stroke="#000" stroke-width="2"/>
<circle cx="833.3" cy="619.2" r="4.15" fill="none" stroke="#000" stroke-width="2"/>
<circle cx="842.8" cy="608" r="4.15" fill="none" stroke="#000" stroke-width="2"/>
<circle cx="852.3" cy="604.6" r="4.15" fill="none" stroke="#000" stroke-width="2"/>
<circle cx="899.3" cy="586.5" r="4.15" fill="none" stroke="#000" stroke-width="2"/>
<circle cx="908.8" cy="617.9" r="4.15" fill="none" stroke="#000" stroke-width="2"/>
<circle cx="918.3" cy="658" r="4.15" fill="none" stroke="#000" stroke-width="2"/>
<circle cx="927.7" cy="658" r="4.15" fill="none" stroke="#000" stroke-width="2"/>
<circle cx="937.2" cy="615.8" r="4.15" fill="none" stroke="#000" stroke-width="2"/>
<circle cx="946.7" cy="583.1" r="4.15" fill="none" stroke="#000" stroke-width="2"/>
<circle cx="993.7" cy="662.8" r="4.15" fill="none" stroke="#000" stroke-width="2"/>
<circle cx="1003.5" cy="653.2" r="4.15" fill="none" stroke="#000" stroke-width="2"/>
<circle cx="1013" cy="596" r="4.15" fill="none" stroke="#000" stroke-width="2"/>
<circle cx="1022.5" cy="660.6" r="4.15" fill="none" stroke="#000" stroke-width="2"/>
<circle cx="1032" cy="611.1" r="4.15" fill="none" stroke="#000" stroke-width="2"/>
<circle cx="1041.5" cy="638.2" r="4.15" fill="none" stroke="#000" stroke-width="2"/>
<circle cx="1088.5" cy="639.6" r="4.15" fill="none" stroke="#000" stroke-width="2"/>
<circle cx="1098" cy="639" r="4.15" fill="none" stroke="#000" stroke-width="2"/>
<circle cx="1107.5" cy="648.5" r="4.15" fill="none" stroke="#000" stroke-width="2"/>
<circle cx="1116.9" cy="653.7" r="4.15" fill="none" stroke="#000" stroke-width="2"/>
<circle cx="1126.4" cy="634.8" r="4.15" fill="none" stroke="#000" stroke-width="2"/>
<circle cx="1135.9" cy="637.3" r="4.15" fill="none" stroke="#000" stroke-width="2"/>
<text x="734.1" y="951.9" font-size="28.5" text-anchor="middle">0</text>
<text x="828.6" y="951.9" font-size="28.5" text-anchor="middle">50</text>
<text x="923" y="951.9" font-size="28.5" text-anchor="middle">100</text>
<text x="1018" y="951.9" font-size="28.5" text-anchor="middle">200</text>
<text x="1112.2" y="951.9" font-size="28.5" text-anchor="middle">400</text>
<text x="923" y="982.8" font-size="34" text-anchor="middle" font-weight="700">Concentration (μg/mL)</text>
<text x="615" y="714.4" font-size="35.2" text-anchor="middle" font-weight="700" transform="rotate(-90 615 714.4)">Cell viability (%)</text>
<text x="590" y="529.6" font-size="62">e</text>
<rect x="1292.2" y="608" width="57.2" height="305.7" fill="#62CBCC"/>
<rect x="1387" y="710.1" width="57.2" height="203.6" fill="#62CBCC"/>
<rect x="1481.3" y="691.15" width="57.2" height="222.55" fill="#62CBCC"/>
<rect x="1576" y="665.17" width="57.2" height="248.53" fill="#62CBCC"/>
<rect x="1670.4" y="641.02" width="57.2" height="272.68" fill="#62CBCC"/>
<line x1="1273.7" y1="514.9" x2="1273.7" y2="915.1" stroke="#000" stroke-width="2.8"/>
<line x1="1746.8" y1="514.9" x2="1746.8" y2="915.1" stroke="#000" stroke-width="2.8"/>
<line x1="1273.7" y1="516.3" x2="1746.8" y2="516.3" stroke="#000" stroke-width="2.8"/>
<line x1="1273.7" y1="913.7" x2="1746.8" y2="913.7" stroke="#000" stroke-width="2.8"/>
<line x1="1265.5" y1="913.7" x2="1273.7" y2="913.7" stroke="#000" stroke-width="2.8"/>
<text x="1259.7" y="922.6" font-size="28.5" text-anchor="end">0</text>
<line x1="1269.3" y1="883.13" x2="1273.7" y2="883.13" stroke="#000" stroke-width="2.8"/>
<line x1="1265.5" y1="852.56" x2="1273.7" y2="852.56" stroke="#000" stroke-width="2.8"/>
<text x="1259.7" y="861.46" font-size="28.5" text-anchor="end">20</text>
<line x1="1269.3" y1="821.99" x2="1273.7" y2="821.99" stroke="#000" stroke-width="2.8"/>
<line x1="1265.5" y1="791.42" x2="1273.7" y2="791.42" stroke="#000" stroke-width="2.8"/>
<text x="1259.7" y="800.32" font-size="28.5" text-anchor="end">40</text>
<line x1="1269.3" y1="760.85" x2="1273.7" y2="760.85" stroke="#000" stroke-width="2.8"/>
<line x1="1265.5" y1="730.28" x2="1273.7" y2="730.28" stroke="#000" stroke-width="2.8"/>
<text x="1259.7" y="739.18" font-size="28.5" text-anchor="end">60</text>
<line x1="1269.3" y1="699.71" x2="1273.7" y2="699.71" stroke="#000" stroke-width="2.8"/>
<line x1="1265.5" y1="669.14" x2="1273.7" y2="669.14" stroke="#000" stroke-width="2.8"/>
<text x="1259.7" y="678.04" font-size="28.5" text-anchor="end">80</text>
<line x1="1269.3" y1="638.57" x2="1273.7" y2="638.57" stroke="#000" stroke-width="2.8"/>
<line x1="1265.5" y1="608" x2="1273.7" y2="608" stroke="#000" stroke-width="2.8"/>
<text x="1259.7" y="616.9" font-size="28.5" text-anchor="end">100</text>
<line x1="1269.3" y1="577.43" x2="1273.7" y2="577.43" stroke="#000" stroke-width="2.8"/>
<line x1="1265.5" y1="546.86" x2="1273.7" y2="546.86" stroke="#000" stroke-width="2.8"/>
<text x="1259.7" y="555.76" font-size="28.5" text-anchor="end">120</text>
<line x1="1320.8" y1="913.7" x2="1320.8" y2="922.1" stroke="#000" stroke-width="2.8"/>
<line x1="1415.6" y1="913.7" x2="1415.6" y2="922.1" stroke="#000" stroke-width="2.8"/>
<line x1="1509.9" y1="913.7" x2="1509.9" y2="922.1" stroke="#000" stroke-width="2.8"/>
<line x1="1604.6" y1="913.7" x2="1604.6" y2="922.1" stroke="#000" stroke-width="2.8"/>
<line x1="1699" y1="913.7" x2="1699" y2="922.1" stroke="#000" stroke-width="2.8"/>
<line x1="1321.1" y1="576.2" x2="1321.1" y2="639.6" stroke="#000" stroke-width="3.1"/>
<line x1="1316.9" y1="576.2" x2="1325.3" y2="576.2" stroke="#000" stroke-width="2.7"/>
<line x1="1316.9" y1="639.6" x2="1325.3" y2="639.6" stroke="#000" stroke-width="2.7"/>
<line x1="1415.4" y1="701.1" x2="1415.4" y2="720.9" stroke="#000" stroke-width="3.1"/>
<line x1="1411.2" y1="701.1" x2="1419.6" y2="701.1" stroke="#000" stroke-width="2.7"/>
<line x1="1411.2" y1="720.9" x2="1419.6" y2="720.9" stroke="#000" stroke-width="2.7"/>
<line x1="1509.8" y1="670.1" x2="1509.8" y2="713.2" stroke="#000" stroke-width="3.1"/>
<line x1="1505.6" y1="670.1" x2="1514" y2="670.1" stroke="#000" stroke-width="2.7"/>
<line x1="1505.6" y1="713.2" x2="1514" y2="713.2" stroke="#000" stroke-width="2.7"/>
<line x1="1604.6" y1="639.1" x2="1604.6" y2="691.1" stroke="#000" stroke-width="3.1"/>
<line x1="1600.4" y1="639.1" x2="1608.8" y2="639.1" stroke="#000" stroke-width="2.7"/>
<line x1="1600.4" y1="691.1" x2="1608.8" y2="691.1" stroke="#000" stroke-width="2.7"/>
<line x1="1699.2" y1="615.8" x2="1699.2" y2="666.3" stroke="#000" stroke-width="3.1"/>
<line x1="1695" y1="615.8" x2="1703.4" y2="615.8" stroke="#000" stroke-width="2.7"/>
<line x1="1695" y1="666.3" x2="1703.4" y2="666.3" stroke="#000" stroke-width="2.7"/>
<circle cx="1297" cy="667.2" r="4.15" fill="none" stroke="#000" stroke-width="2"/>
<circle cx="1306.5" cy="591.3" r="4.15" fill="none" stroke="#000" stroke-width="2"/>
<circle cx="1316" cy="629.2" r="4.15" fill="none" stroke="#000" stroke-width="2"/>
<circle cx="1325.4" cy="592.5" r="4.15" fill="none" stroke="#000" stroke-width="2"/>
<circle cx="1334.9" cy="597.7" r="4.15" fill="none" stroke="#000" stroke-width="2"/>
<circle cx="1344.4" cy="571" r="4.15" fill="none" stroke="#000" stroke-width="2"/>
<circle cx="1391.8" cy="727.8" r="4.15" fill="none" stroke="#000" stroke-width="2"/>
<circle cx="1401.3" cy="710.6" r="4.15" fill="none" stroke="#000" stroke-width="2"/>
<circle cx="1410.7" cy="702.3" r="4.15" fill="none" stroke="#000" stroke-width="2"/>
<circle cx="1420.2" cy="695.6" r="4.15" fill="none" stroke="#000" stroke-width="2"/>
<circle cx="1429.7" cy="715.2" r="4.15" fill="none" stroke="#000" stroke-width="2"/>
<circle cx="1439.2" cy="712.8" r="4.15" fill="none" stroke="#000" stroke-width="2"/>
<circle cx="1486" cy="717.1" r="4.15" fill="none" stroke="#000" stroke-width="2"/>
<circle cx="1495.5" cy="681.6" r="4.15" fill="none" stroke="#000" stroke-width="2"/>
<circle cx="1505" cy="667.2" r="4.15" fill="none" stroke="#000" stroke-width="2"/>
<circle cx="1514.5" cy="675.3" r="4.15" fill="none" stroke="#000" stroke-width="2"/>
<circle cx="1524" cy="724.4" r="4.15" fill="none" stroke="#000" stroke-width="2"/>
<circle cx="1533.4" cy="682.5" r="4.15" fill="none" stroke="#000" stroke-width="2"/>
<circle cx="1580.8" cy="654.9" r="4.15" fill="none" stroke="#000" stroke-width="2"/>
<circle cx="1590.3" cy="687.3" r="4.15" fill="none" stroke="#000" stroke-width="2"/>
<circle cx="1599.8" cy="703.3" r="4.15" fill="none" stroke="#000" stroke-width="2"/>
<circle cx="1609.3" cy="633.9" r="4.15" fill="none" stroke="#000" stroke-width="2"/>
<circle cx="1618.7" cy="678.2" r="4.15" fill="none" stroke="#000" stroke-width="2"/>
<circle cx="1628.2" cy="633.5" r="4.15" fill="none" stroke="#000" stroke-width="2"/>
<circle cx="1675.3" cy="586" r="4.15" fill="none" stroke="#000" stroke-width="2"/>
<circle cx="1684.7" cy="643.9" r="4.15" fill="none" stroke="#000" stroke-width="2"/>
<circle cx="1694.2" cy="658.4" r="4.15" fill="none" stroke="#000" stroke-width="2"/>
<circle cx="1703.7" cy="647.2" r="4.15" fill="none" stroke="#000" stroke-width="2"/>
<circle cx="1713.2" cy="660.9" r="4.15" fill="none" stroke="#000" stroke-width="2"/>
<circle cx="1722.7" cy="651.5" r="4.15" fill="none" stroke="#000" stroke-width="2"/>
<line x1="1319.95" y1="535.4" x2="1700.05" y2="535.4" stroke="#000" stroke-width="2.3"/>
<line x1="1321.1" y1="535.4" x2="1321.1" y2="550.3" stroke="#000" stroke-width="2.3"/>
<line x1="1415.4" y1="535.4" x2="1415.4" y2="685.6" stroke="#000" stroke-width="2.3"/>
<line x1="1509.8" y1="535.4" x2="1509.8" y2="642.5" stroke="#000" stroke-width="2.3"/>
<line x1="1604.6" y1="535.4" x2="1604.6" y2="611.5" stroke="#000" stroke-width="2.3"/>
<line x1="1698.9" y1="535.4" x2="1698.9" y2="589.1" stroke="#000" stroke-width="2.3"/>
<text x="1321.1" y="579.3" font-size="33.5" text-anchor="middle" stroke="#000" stroke-width="0.6">***</text>
<text x="1509.4" y="670.7" font-size="33.5" text-anchor="middle" stroke="#000" stroke-width="0.6">*</text>
<text x="1604.3" y="638.8" font-size="33.5" text-anchor="middle" stroke="#000" stroke-width="0.6">**</text>
<text x="1698.9" y="618.1" font-size="33.5" text-anchor="middle" stroke="#000" stroke-width="0.6">***</text>
<text x="1200" y="713.9" font-size="35.2" text-anchor="middle" font-weight="700" transform="rotate(-90 1200 713.9)">Cell viability (%)</text>
<text x="1181" y="530" font-size="62">f</text>
<text x="1261.5" y="942.9" font-size="25.1" font-weight="700" text-anchor="end">H<tspan font-size="16.6" dy="5.6">2</tspan><tspan dy="-5.6">O</tspan><tspan font-size="16.6" dy="5.6">2</tspan></text>
<text x="1261.6" y="975.5" font-size="25.1" text-anchor="end" font-weight="700">MF-0</text>
<text x="1320.8" y="940.8" font-size="27.5" text-anchor="middle" font-weight="700">-</text>
<text x="1320.8" y="972.9" font-size="27.5" text-anchor="middle" font-weight="700">-</text>
<text x="1415.6" y="942.3" font-size="26" text-anchor="middle" font-weight="700">+</text>
<text x="1415.6" y="972.9" font-size="27.5" text-anchor="middle" font-weight="700">-</text>
<text x="1509.9" y="942.3" font-size="26" text-anchor="middle" font-weight="700">+</text>
<text x="1509.9" y="975.5" font-size="25.1" text-anchor="middle" font-weight="700">20</text>
<text x="1604.6" y="942.3" font-size="26" text-anchor="middle" font-weight="700">+</text>
<text x="1604.6" y="975.5" font-size="25.1" text-anchor="middle" font-weight="700">50</text>
<text x="1699" y="942.3" font-size="26" text-anchor="middle" font-weight="700">+</text>
<text x="1699" y="975.5" font-size="25.1" text-anchor="middle" font-weight="700">80</text>
<rect x="1293.9" y="1322.63" width="57" height="87.37" fill="#62CBCC"/>
<rect x="1388.3" y="1167.23" width="57" height="242.77" fill="#62CBCC"/>
<rect x="1483" y="1208.15" width="57" height="201.85" fill="#62CBCC"/>
<rect x="1577.5" y="1291.11" width="57" height="118.89" fill="#62CBCC"/>
<rect x="1672.1" y="1325.94" width="57" height="84.06" fill="#62CBCC"/>
<line x1="1274.8" y1="1010.7" x2="1274.8" y2="1411.4" stroke="#000" stroke-width="2.8"/>
<line x1="1747.6" y1="1010.7" x2="1747.6" y2="1411.4" stroke="#000" stroke-width="2.8"/>
<line x1="1274.8" y1="1012.1" x2="1747.6" y2="1012.1" stroke="#000" stroke-width="2.8"/>
<line x1="1274.8" y1="1410" x2="1747.6" y2="1410" stroke="#000" stroke-width="2.8"/>
<line x1="1266.6" y1="1410" x2="1274.8" y2="1410" stroke="#000" stroke-width="2.8"/>
<text x="1260.8" y="1418.9" font-size="28.5" text-anchor="end">0</text>
<line x1="1270.4" y1="1382.35" x2="1274.8" y2="1382.35" stroke="#000" stroke-width="2.8"/>
<line x1="1266.6" y1="1354.7" x2="1274.8" y2="1354.7" stroke="#000" stroke-width="2.8"/>
<text x="1260.8" y="1363.6" font-size="28.5" text-anchor="end">10</text>
<line x1="1270.4" y1="1327.05" x2="1274.8" y2="1327.05" stroke="#000" stroke-width="2.8"/>
<line x1="1266.6" y1="1299.4" x2="1274.8" y2="1299.4" stroke="#000" stroke-width="2.8"/>
<text x="1260.8" y="1308.3" font-size="28.5" text-anchor="end">20</text>
<line x1="1270.4" y1="1271.75" x2="1274.8" y2="1271.75" stroke="#000" stroke-width="2.8"/>
<line x1="1266.6" y1="1244.1" x2="1274.8" y2="1244.1" stroke="#000" stroke-width="2.8"/>
<text x="1260.8" y="1253" font-size="28.5" text-anchor="end">30</text>
<line x1="1270.4" y1="1216.45" x2="1274.8" y2="1216.45" stroke="#000" stroke-width="2.8"/>
<line x1="1266.6" y1="1188.8" x2="1274.8" y2="1188.8" stroke="#000" stroke-width="2.8"/>
<text x="1260.8" y="1197.7" font-size="28.5" text-anchor="end">40</text>
<line x1="1270.4" y1="1161.15" x2="1274.8" y2="1161.15" stroke="#000" stroke-width="2.8"/>
<line x1="1266.6" y1="1133.5" x2="1274.8" y2="1133.5" stroke="#000" stroke-width="2.8"/>
<text x="1260.8" y="1142.4" font-size="28.5" text-anchor="end">50</text>
<line x1="1270.4" y1="1105.85" x2="1274.8" y2="1105.85" stroke="#000" stroke-width="2.8"/>
<line x1="1266.6" y1="1078.2" x2="1274.8" y2="1078.2" stroke="#000" stroke-width="2.8"/>
<text x="1260.8" y="1087.1" font-size="28.5" text-anchor="end">60</text>
<line x1="1270.4" y1="1050.55" x2="1274.8" y2="1050.55" stroke="#000" stroke-width="2.8"/>
<line x1="1266.6" y1="1022.9" x2="1274.8" y2="1022.9" stroke="#000" stroke-width="2.8"/>
<text x="1260.8" y="1031.8" font-size="28.5" text-anchor="end">70</text>
<line x1="1322.4" y1="1410" x2="1322.4" y2="1418.4" stroke="#000" stroke-width="2.8"/>
<line x1="1416.8" y1="1410" x2="1416.8" y2="1418.4" stroke="#000" stroke-width="2.8"/>
<line x1="1511.5" y1="1410" x2="1511.5" y2="1418.4" stroke="#000" stroke-width="2.8"/>
<line x1="1606" y1="1410" x2="1606" y2="1418.4" stroke="#000" stroke-width="2.8"/>
<line x1="1700.6" y1="1410" x2="1700.6" y2="1418.4" stroke="#000" stroke-width="2.8"/>
<line x1="1322.5" y1="1310.1" x2="1322.5" y2="1334.6" stroke="#000" stroke-width="3.1"/>
<line x1="1318.3" y1="1310.1" x2="1326.7" y2="1310.1" stroke="#000" stroke-width="2.7"/>
<line x1="1318.3" y1="1334.6" x2="1326.7" y2="1334.6" stroke="#000" stroke-width="2.7"/>
<line x1="1417.6" y1="1118.9" x2="1417.6" y2="1216.1" stroke="#000" stroke-width="3.1"/>
<line x1="1413.4" y1="1118.9" x2="1421.8" y2="1118.9" stroke="#000" stroke-width="2.7"/>
<line x1="1413.4" y1="1216.1" x2="1421.8" y2="1216.1" stroke="#000" stroke-width="2.7"/>
<line x1="1511.4" y1="1176.1" x2="1511.4" y2="1240.3" stroke="#000" stroke-width="3.1"/>
<line x1="1507.2" y1="1176.1" x2="1515.6" y2="1176.1" stroke="#000" stroke-width="2.7"/>
<line x1="1507.2" y1="1240.3" x2="1515.6" y2="1240.3" stroke="#000" stroke-width="2.7"/>
<line x1="1606.2" y1="1251.5" x2="1606.2" y2="1331.1" stroke="#000" stroke-width="3.1"/>
<line x1="1602" y1="1251.5" x2="1610.4" y2="1251.5" stroke="#000" stroke-width="2.7"/>
<line x1="1602" y1="1331.1" x2="1610.4" y2="1331.1" stroke="#000" stroke-width="2.7"/>
<line x1="1700.6" y1="1312.7" x2="1700.6" y2="1338.9" stroke="#000" stroke-width="3.1"/>
<line x1="1696.4" y1="1312.7" x2="1704.8" y2="1312.7" stroke="#000" stroke-width="2.7"/>
<line x1="1696.4" y1="1338.9" x2="1704.8" y2="1338.9" stroke="#000" stroke-width="2.7"/>
<circle cx="1295.3" cy="1309.9" r="2.7" fill="none" stroke="#000" stroke-width="1.45"/>
<circle cx="1309.4" cy="1302.2" r="2.7" fill="none" stroke="#000" stroke-width="1.45"/>
<circle cx="1306.5" cy="1313.2" r="2.7" fill="none" stroke="#000" stroke-width="1.45"/>
<circle cx="1303.9" cy="1324.2" r="2.7" fill="none" stroke="#000" stroke-width="1.45"/>
<circle cx="1301" cy="1332.8" r="2.7" fill="none" stroke="#000" stroke-width="1.45"/>
<circle cx="1298.2" cy="1336.8" r="2.7" fill="none" stroke="#000" stroke-width="1.45"/>
<circle cx="1312.2" cy="1329" r="2.7" fill="none" stroke="#000" stroke-width="1.45"/>
<circle cx="1315.1" cy="1330.2" r="2.7" fill="none" stroke="#000" stroke-width="1.45"/>
<circle cx="1318" cy="1337.1" r="2.7" fill="none" stroke="#000" stroke-width="1.45"/>
<circle cx="1321" cy="1338.9" r="2.7" fill="none" stroke="#000" stroke-width="1.45"/>
<circle cx="1323.7" cy="1332.3" r="2.7" fill="none" stroke="#000" stroke-width="1.45"/>
<circle cx="1326.6" cy="1316.5" r="2.7" fill="none" stroke="#000" stroke-width="1.45"/>
<circle cx="1329.4" cy="1315.3" r="2.7" fill="none" stroke="#000" stroke-width="1.45"/>
<circle cx="1332.3" cy="1317" r="2.7" fill="none" stroke="#000" stroke-width="1.45"/>
<circle cx="1335.3" cy="1325.4" r="2.7" fill="none" stroke="#000" stroke-width="1.45"/>
<circle cx="1338" cy="1302.7" r="2.7" fill="none" stroke="#000" stroke-width="1.45"/>
<circle cx="1340.6" cy="1305.3" r="2.7" fill="none" stroke="#000" stroke-width="1.45"/>
<circle cx="1343.5" cy="1337.1" r="2.7" fill="none" stroke="#000" stroke-width="1.45"/>
<circle cx="1346.5" cy="1316.1" r="2.7" fill="none" stroke="#000" stroke-width="1.45"/>
<circle cx="1349.4" cy="1328.9" r="2.7" fill="none" stroke="#000" stroke-width="1.45"/>
<circle cx="1426.8" cy="1064.6" r="2.7" fill="none" stroke="#000" stroke-width="1.45"/>
<circle cx="1398.3" cy="1087.7" r="2.7" fill="none" stroke="#000" stroke-width="1.45"/>
<circle cx="1412.6" cy="1095.3" r="2.7" fill="none" stroke="#000" stroke-width="1.45"/>
<circle cx="1401.1" cy="1113.7" r="2.7" fill="none" stroke="#000" stroke-width="1.45"/>
<circle cx="1418" cy="1139.6" r="2.7" fill="none" stroke="#000" stroke-width="1.45"/>
<circle cx="1432.4" cy="1138.5" r="2.7" fill="none" stroke="#000" stroke-width="1.45"/>
<circle cx="1421.1" cy="1148.2" r="2.7" fill="none" stroke="#000" stroke-width="1.45"/>
<circle cx="1424.2" cy="1166.5" r="2.7" fill="none" stroke="#000" stroke-width="1.45"/>
<circle cx="1444" cy="1168.9" r="2.7" fill="none" stroke="#000" stroke-width="1.45"/>
<circle cx="1389.7" cy="1173" r="2.7" fill="none" stroke="#000" stroke-width="1.45"/>
<circle cx="1395.7" cy="1172" r="2.7" fill="none" stroke="#000" stroke-width="1.45"/>
<circle cx="1435.2" cy="1176.1" r="2.7" fill="none" stroke="#000" stroke-width="1.45"/>
<circle cx="1415.2" cy="1187" r="2.7" fill="none" stroke="#000" stroke-width="1.45"/>
<circle cx="1440.9" cy="1190.8" r="2.7" fill="none" stroke="#000" stroke-width="1.45"/>
<circle cx="1409.9" cy="1204.7" r="2.7" fill="none" stroke="#000" stroke-width="1.45"/>
<circle cx="1406.8" cy="1208" r="2.7" fill="none" stroke="#000" stroke-width="1.45"/>
<circle cx="1392.6" cy="1213.8" r="2.7" fill="none" stroke="#000" stroke-width="1.45"/>
<circle cx="1429.7" cy="1225.2" r="2.7" fill="none" stroke="#000" stroke-width="1.45"/>
<circle cx="1404" cy="1236.4" r="2.7" fill="none" stroke="#000" stroke-width="1.45"/>
<circle cx="1437.8" cy="1240.4" r="2.7" fill="none" stroke="#000" stroke-width="1.45"/>
<circle cx="1509.8" cy="1150.8" r="2.7" fill="none" stroke="#000" stroke-width="1.45"/>
<circle cx="1532.6" cy="1160.9" r="2.7" fill="none" stroke="#000" stroke-width="1.45"/>
<circle cx="1518.3" cy="1167.7" r="2.7" fill="none" stroke="#000" stroke-width="1.45"/>
<circle cx="1529.6" cy="1170.9" r="2.7" fill="none" stroke="#000" stroke-width="1.45"/>
<circle cx="1507.1" cy="1179.9" r="2.7" fill="none" stroke="#000" stroke-width="1.45"/>
<circle cx="1487.3" cy="1183.5" r="2.7" fill="none" stroke="#000" stroke-width="1.45"/>
<circle cx="1498.5" cy="1192.7" r="2.7" fill="none" stroke="#000" stroke-width="1.45"/>
<circle cx="1495.5" cy="1199.9" r="2.7" fill="none" stroke="#000" stroke-width="1.45"/>
<circle cx="1501.6" cy="1202.8" r="2.7" fill="none" stroke="#000" stroke-width="1.45"/>
<circle cx="1504.1" cy="1206.6" r="2.7" fill="none" stroke="#000" stroke-width="1.45"/>
<circle cx="1526.9" cy="1210.1" r="2.7" fill="none" stroke="#000" stroke-width="1.45"/>
<circle cx="1512.8" cy="1212.8" r="2.7" fill="none" stroke="#000" stroke-width="1.45"/>
<circle cx="1484.3" cy="1221.8" r="2.7" fill="none" stroke="#000" stroke-width="1.45"/>
<circle cx="1490" cy="1229.2" r="2.7" fill="none" stroke="#000" stroke-width="1.45"/>
<circle cx="1492.9" cy="1232.1" r="2.7" fill="none" stroke="#000" stroke-width="1.45"/>
<circle cx="1515.9" cy="1233" r="2.7" fill="none" stroke="#000" stroke-width="1.45"/>
<circle cx="1521.4" cy="1235.4" r="2.7" fill="none" stroke="#000" stroke-width="1.45"/>
<circle cx="1524.1" cy="1242.9" r="2.7" fill="none" stroke="#000" stroke-width="1.45"/>
<circle cx="1535.5" cy="1263.6" r="2.7" fill="none" stroke="#000" stroke-width="1.45"/>
<circle cx="1538.3" cy="1264.8" r="2.7" fill="none" stroke="#000" stroke-width="1.45"/>
<circle cx="1601.5" cy="1195.4" r="2.7" fill="none" stroke="#000" stroke-width="1.45"/>
<circle cx="1624.4" cy="1208.8" r="2.7" fill="none" stroke="#000" stroke-width="1.45"/>
<circle cx="1632.9" cy="1219.1" r="2.7" fill="none" stroke="#000" stroke-width="1.45"/>
<circle cx="1610.1" cy="1242.9" r="2.7" fill="none" stroke="#000" stroke-width="1.45"/>
<circle cx="1621.8" cy="1282.9" r="2.7" fill="none" stroke="#000" stroke-width="1.45"/>
<circle cx="1598.9" cy="1292.7" r="2.7" fill="none" stroke="#000" stroke-width="1.45"/>
<circle cx="1627.4" cy="1292" r="2.7" fill="none" stroke="#000" stroke-width="1.45"/>
<circle cx="1629.9" cy="1295.8" r="2.7" fill="none" stroke="#000" stroke-width="1.45"/>
<circle cx="1593.2" cy="1300.1" r="2.7" fill="none" stroke="#000" stroke-width="1.45"/>
<circle cx="1584.6" cy="1307" r="2.7" fill="none" stroke="#000" stroke-width="1.45"/>
<circle cx="1587.7" cy="1310.9" r="2.7" fill="none" stroke="#000" stroke-width="1.45"/>
<circle cx="1590.3" cy="1315.6" r="2.7" fill="none" stroke="#000" stroke-width="1.45"/>
<circle cx="1613.2" cy="1312.2" r="2.7" fill="none" stroke="#000" stroke-width="1.45"/>
<circle cx="1615.8" cy="1316.5" r="2.7" fill="none" stroke="#000" stroke-width="1.45"/>
<circle cx="1579.1" cy="1319.9" r="2.7" fill="none" stroke="#000" stroke-width="1.45"/>
<circle cx="1595.8" cy="1320.4" r="2.7" fill="none" stroke="#000" stroke-width="1.45"/>
<circle cx="1607.5" cy="1319.6" r="2.7" fill="none" stroke="#000" stroke-width="1.45"/>
<circle cx="1604.1" cy="1323" r="2.7" fill="none" stroke="#000" stroke-width="1.45"/>
<circle cx="1581.7" cy="1324.6" r="2.7" fill="none" stroke="#000" stroke-width="1.45"/>
<circle cx="1618.7" cy="1324.4" r="2.7" fill="none" stroke="#000" stroke-width="1.45"/>
<circle cx="1696.3" cy="1301" r="2.7" fill="none" stroke="#000" stroke-width="1.45"/>
<circle cx="1710.4" cy="1301" r="2.7" fill="none" stroke="#000" stroke-width="1.45"/>
<circle cx="1719" cy="1305.8" r="2.7" fill="none" stroke="#000" stroke-width="1.45"/>
<circle cx="1690.6" cy="1312.7" r="2.7" fill="none" stroke="#000" stroke-width="1.45"/>
<circle cx="1721.6" cy="1313.7" r="2.7" fill="none" stroke="#000" stroke-width="1.45"/>
<circle cx="1698.9" cy="1319.2" r="2.7" fill="none" stroke="#000" stroke-width="1.45"/>
<circle cx="1701.8" cy="1319.9" r="2.7" fill="none" stroke="#000" stroke-width="1.45"/>
<circle cx="1707.8" cy="1320.3" r="2.7" fill="none" stroke="#000" stroke-width="1.45"/>
<circle cx="1676.5" cy="1327" r="2.7" fill="none" stroke="#000" stroke-width="1.45"/>
<circle cx="1724.7" cy="1328.5" r="2.7" fill="none" stroke="#000" stroke-width="1.45"/>
<circle cx="1684.7" cy="1329.6" r="2.7" fill="none" stroke="#000" stroke-width="1.45"/>
<circle cx="1687.7" cy="1331.1" r="2.7" fill="none" stroke="#000" stroke-width="1.45"/>
<circle cx="1727.8" cy="1335.1" r="2.7" fill="none" stroke="#000" stroke-width="1.45"/>
<circle cx="1679" cy="1337.5" r="2.7" fill="none" stroke="#000" stroke-width="1.45"/>
<circle cx="1682" cy="1338" r="2.7" fill="none" stroke="#000" stroke-width="1.45"/>
<circle cx="1704.9" cy="1337.1" r="2.7" fill="none" stroke="#000" stroke-width="1.45"/>
<circle cx="1693.4" cy="1339.4" r="2.7" fill="none" stroke="#000" stroke-width="1.45"/>
<circle cx="1713.2" cy="1340.6" r="2.7" fill="none" stroke="#000" stroke-width="1.45"/>
<circle cx="1716.1" cy="1340.6" r="2.7" fill="none" stroke="#000" stroke-width="1.45"/>
<circle cx="1673.4" cy="1342.3" r="2.7" fill="none" stroke="#000" stroke-width="1.45"/>
<line x1="1321.65" y1="1032.2" x2="1702.05" y2="1032.2" stroke="#000" stroke-width="2.3"/>
<line x1="1322.8" y1="1032.2" x2="1322.8" y2="1267.3" stroke="#000" stroke-width="2.3"/>
<line x1="1417.1" y1="1032.2" x2="1417.1" y2="1063.2" stroke="#000" stroke-width="2.3"/>
<line x1="1511.4" y1="1032.2" x2="1511.4" y2="1120.1" stroke="#000" stroke-width="2.3"/>
<line x1="1605.8" y1="1032.2" x2="1605.8" y2="1160.6" stroke="#000" stroke-width="2.3"/>
<line x1="1700.9" y1="1032.2" x2="1700.9" y2="1267.3" stroke="#000" stroke-width="2.3"/>
<text x="1322.4" y="1299" font-size="33.5" text-anchor="middle" stroke="#000" stroke-width="0.6">***</text>
<text x="1511" y="1150.9" font-size="33.5" text-anchor="middle" stroke="#000" stroke-width="0.6">**</text>
<text x="1606.6" y="1191.4" font-size="33.5" text-anchor="middle" stroke="#000" stroke-width="0.6">***</text>
<text x="1700.2" y="1299" font-size="33.5" text-anchor="middle" stroke="#000" stroke-width="0.6">***</text>
<text x="1322.4" y="1444.8" font-size="28" text-anchor="middle" font-weight="700">I</text>
<text x="1416.8" y="1444.8" font-size="28" text-anchor="middle" font-weight="700">II</text>
<text x="1511.5" y="1444.8" font-size="28" text-anchor="middle" font-weight="700">III</text>
<text x="1606" y="1444.8" font-size="28" text-anchor="middle" font-weight="700">IV</text>
<text x="1700.6" y="1444.8" font-size="28" text-anchor="middle" font-weight="700">V</text>
<text x="1205.4" y="1211.9" font-size="34.8" text-anchor="middle" font-weight="700" transform="rotate(-90 1205.4 1211.9)">DCF FI (a.u.)</text>
<text x="1173" y="1030" font-size="62">h</text>
<text x="6" y="1030" font-size="62">g</text>
<clipPath id="t0"><rect x="103.1" y="1010" width="200.3" height="181"/></clipPath>
<clipPath id="u0"><rect x="103.1" y="1198" width="200.3" height="181"/></clipPath>
<rect x="103.1" y="1010" width="200.3" height="181" fill="rgb(0,0,0)"/>
<g clip-path="url(#t0)"><g filter="url(#b2)">
<ellipse cx="150.37" cy="1018.09" rx="5.89" ry="10.47" fill="rgb(2,65,2)" transform="rotate(0 150.37 1018.09)"/>
<ellipse cx="145.13" cy="1033.8" rx="3.27" ry="6.55" fill="rgb(6,103,7)" transform="rotate(10 145.13 1033.8)"/>
<ellipse cx="242.02" cy="1022.02" rx="5.96" ry="12.96" fill="rgb(2,67,2)" opacity="0.8" transform="rotate(5 242.02 1022.02)"/>
<ellipse cx="242.02" cy="1022.02" rx="3.28" ry="6.48" fill="rgb(4,90,5)" transform="rotate(5 242.02 1022.02)"/>
<ellipse cx="257.73" cy="1028.57" rx="4.26" ry="8.64" fill="rgb(5,98,6)" opacity="0.8" transform="rotate(0 257.73 1028.57)"/>
<ellipse cx="257.73" cy="1028.57" rx="2.34" ry="4.32" fill="rgb(10,131,12)" transform="rotate(0 257.73 1028.57)"/>
<ellipse cx="248.56" cy="1036.42" rx="4.26" ry="12.96" fill="rgb(1,57,1)" opacity="0.8" transform="rotate(0 248.56 1036.42)"/>
<ellipse cx="248.56" cy="1036.42" rx="2.34" ry="6.48" fill="rgb(3,77,3)" transform="rotate(0 248.56 1036.42)"/>
<ellipse cx="227.62" cy="1050.82" rx="5.11" ry="12.96" fill="rgb(3,77,3)" opacity="0.8" transform="rotate(0 227.62 1050.82)"/>
<ellipse cx="227.62" cy="1050.82" rx="2.81" ry="6.48" fill="rgb(6,103,7)" transform="rotate(0 227.62 1050.82)"/>
<ellipse cx="239.4" cy="1062.61" rx="5.11" ry="12.96" fill="rgb(1,48,1)" opacity="0.8" transform="rotate(0 239.4 1062.61)"/>
<ellipse cx="239.4" cy="1062.61" rx="2.81" ry="6.48" fill="rgb(2,65,2)" transform="rotate(0 239.4 1062.61)"/>
<ellipse cx="257.07" cy="1066.53" rx="5.11" ry="15.84" fill="rgb(3,77,3)" opacity="0.8" transform="rotate(0 257.07 1066.53)"/>
<ellipse cx="257.07" cy="1066.53" rx="2.81" ry="7.92" fill="rgb(6,103,7)" transform="rotate(0 257.07 1066.53)"/>
<ellipse cx="265.58" cy="1065.23" rx="3.4" ry="14.4" fill="rgb(1,48,1)" opacity="0.8" transform="rotate(0 265.58 1065.23)"/>
<ellipse cx="265.58" cy="1065.23" rx="1.87" ry="7.2" fill="rgb(2,65,2)" transform="rotate(0 265.58 1065.23)"/>
<ellipse cx="106.51" cy="1057.37" rx="3.93" ry="4.58" fill="rgb(36,222,43)" transform="rotate(0 106.51 1057.37)"/>
<ellipse cx="289.15" cy="1076.35" rx="5.24" ry="4.58" fill="rgb(6,103,7)" transform="rotate(0 289.15 1076.35)"/>
<ellipse cx="300.28" cy="1077.01" rx="2.88" ry="3.27" fill="rgb(17,160,20)" transform="rotate(0 300.28 1077.01)"/>
<ellipse cx="166.08" cy="1079.63" rx="5.11" ry="14.4" fill="rgb(3,77,3)" opacity="0.8" transform="rotate(-25 166.08 1079.63)"/>
<ellipse cx="166.08" cy="1079.63" rx="2.81" ry="7.2" fill="rgb(6,103,7)" transform="rotate(-25 166.08 1079.63)"/>
<ellipse cx="184.41" cy="1094.03" rx="6.81" ry="17.28" fill="rgb(4,87,5)" opacity="0.8" transform="rotate(-25 184.41 1094.03)"/>
<ellipse cx="184.41" cy="1094.03" rx="3.74" ry="8.64" fill="rgb(8,117,9)" transform="rotate(-25 184.41 1094.03)"/>
<ellipse cx="146.44" cy="1095.34" rx="5.11" ry="12.96" fill="rgb(2,67,2)" opacity="0.8" transform="rotate(15 146.44 1095.34)"/>
<ellipse cx="146.44" cy="1095.34" rx="2.81" ry="6.48" fill="rgb(4,90,5)" transform="rotate(15 146.44 1095.34)"/>
<ellipse cx="266.89" cy="1107.12" rx="5.11" ry="23.04" fill="rgb(2,67,2)" opacity="0.8" transform="rotate(-55 266.89 1107.12)"/>
<ellipse cx="266.89" cy="1107.12" rx="2.81" ry="11.52" fill="rgb(4,90,5)" transform="rotate(-55 266.89 1107.12)"/>
<ellipse cx="118.95" cy="1122.83" rx="6.81" ry="12.96" fill="rgb(2,67,2)" opacity="0.8" transform="rotate(15 118.95 1122.83)"/>
<ellipse cx="118.95" cy="1122.83" rx="3.74" ry="6.48" fill="rgb(4,90,5)" transform="rotate(15 118.95 1122.83)"/>
<ellipse cx="143.82" cy="1125.45" rx="5.96" ry="14.4" fill="rgb(1,57,1)" opacity="0.8" transform="rotate(-20 143.82 1125.45)"/>
<ellipse cx="143.82" cy="1125.45" rx="3.28" ry="7.2" fill="rgb(3,77,3)" transform="rotate(-20 143.82 1125.45)"/>
<ellipse cx="210.59" cy="1120.21" rx="5.96" ry="17.28" fill="rgb(2,67,2)" opacity="0.8" transform="rotate(-25 210.59 1120.21)"/>
<ellipse cx="210.59" cy="1120.21" rx="3.28" ry="8.64" fill="rgb(4,90,5)" transform="rotate(-25 210.59 1120.21)"/>
<ellipse cx="231.54" cy="1133.31" rx="5.96" ry="15.84" fill="rgb(2,67,2)" opacity="0.8" transform="rotate(-25 231.54 1133.31)"/>
<ellipse cx="231.54" cy="1133.31" rx="3.28" ry="7.92" fill="rgb(4,90,5)" transform="rotate(-25 231.54 1133.31)"/>
<ellipse cx="204.05" cy="1142.47" rx="5.96" ry="15.84" fill="rgb(3,77,3)" opacity="0.8" transform="rotate(-40 204.05 1142.47)"/>
<ellipse cx="204.05" cy="1142.47" rx="3.28" ry="7.92" fill="rgb(6,103,7)" transform="rotate(-40 204.05 1142.47)"/>
<ellipse cx="276.06" cy="1133.31" rx="4.26" ry="17.28" fill="rgb(0,39,0)" opacity="0.8" transform="rotate(-30 276.06 1133.31)"/>
<ellipse cx="276.06" cy="1133.31" rx="2.34" ry="8.64" fill="rgb(1,53,1)" transform="rotate(-30 276.06 1133.31)"/>
<ellipse cx="117.64" cy="1147.71" rx="5.96" ry="12.96" fill="rgb(1,57,1)" opacity="0.8" transform="rotate(10 117.64 1147.71)"/>
<ellipse cx="117.64" cy="1147.71" rx="3.28" ry="6.48" fill="rgb(3,77,3)" transform="rotate(10 117.64 1147.71)"/>
<ellipse cx="129.42" cy="1156.87" rx="5.96" ry="12.96" fill="rgb(1,57,1)" opacity="0.8" transform="rotate(0 129.42 1156.87)"/>
<ellipse cx="129.42" cy="1156.87" rx="3.28" ry="6.48" fill="rgb(3,77,3)" transform="rotate(0 129.42 1156.87)"/>
<ellipse cx="147.75" cy="1156.87" rx="6.81" ry="15.84" fill="rgb(1,57,1)" opacity="0.8" transform="rotate(-15 147.75 1156.87)"/>
<ellipse cx="147.75" cy="1156.87" rx="3.74" ry="7.92" fill="rgb(3,77,3)" transform="rotate(-15 147.75 1156.87)"/>
<ellipse cx="160.84" cy="1158.18" rx="5.11" ry="12.96" fill="rgb(1,48,1)" opacity="0.8" transform="rotate(-20 160.84 1158.18)"/>
<ellipse cx="160.84" cy="1158.18" rx="2.81" ry="6.48" fill="rgb(2,65,2)" transform="rotate(-20 160.84 1158.18)"/>
<ellipse cx="297" cy="1150.33" rx="5.11" ry="12.96" fill="rgb(1,57,1)" opacity="0.8" transform="rotate(-25 297 1150.33)"/>
<ellipse cx="297" cy="1150.33" rx="2.81" ry="6.48" fill="rgb(3,77,3)" transform="rotate(-25 297 1150.33)"/>
<ellipse cx="286.53" cy="1164.73" rx="5.96" ry="12.96" fill="rgb(3,77,3)" opacity="0.8" transform="rotate(-15 286.53 1164.73)"/>
<ellipse cx="286.53" cy="1164.73" rx="3.28" ry="6.48" fill="rgb(6,103,7)" transform="rotate(-15 286.53 1164.73)"/>
<ellipse cx="218.45" cy="1171.27" rx="5.96" ry="12.96" fill="rgb(1,48,1)" opacity="0.8" transform="rotate(-35 218.45 1171.27)"/>
<ellipse cx="218.45" cy="1171.27" rx="3.28" ry="6.48" fill="rgb(2,65,2)" transform="rotate(-35 218.45 1171.27)"/>
<ellipse cx="178.52" cy="1180.44" rx="5.24" ry="4.58" fill="rgb(30,206,36)" transform="rotate(0 178.52 1180.44)"/>
<ellipse cx="299.62" cy="1181.75" rx="4.26" ry="8.64" fill="rgb(2,67,2)" opacity="0.8" transform="rotate(-20 299.62 1181.75)"/>
<ellipse cx="299.62" cy="1181.75" rx="2.34" ry="4.32" fill="rgb(4,90,5)" transform="rotate(-20 299.62 1181.75)"/>
<ellipse cx="197.5" cy="1184.37" rx="4.58" ry="5.24" fill="rgb(1,53,1)" transform="rotate(0 197.5 1184.37)"/>
<ellipse cx="218.45" cy="1186.98" rx="5.24" ry="3.93" fill="rgb(2,65,2)" transform="rotate(0 218.45 1186.98)"/>
</g></g>
<rect x="103.1" y="1198" width="200.3" height="181" fill="url(#bfg)"/>
<g clip-path="url(#u0)"><g filter="url(#b1)">
<ellipse cx="150.37" cy="1206.09" rx="5.89" ry="10.47" fill="#d3d1be" stroke="#e4e4df" stroke-width="1.1" opacity="0.4" transform="rotate(0 150.37 1206.09)"/>
<ellipse cx="145.13" cy="1221.8" rx="3.27" ry="6.55" fill="#d3d1be" stroke="#e4e4df" stroke-width="1.1" opacity="0.4" transform="rotate(10 145.13 1221.8)"/>
<ellipse cx="242.02" cy="1210.02" rx="4.58" ry="11.78" fill="#d3d1be" stroke="#e4e4df" stroke-width="1.1" opacity="0.4" transform="rotate(5 242.02 1210.02)"/>
<ellipse cx="257.73" cy="1216.57" rx="3.27" ry="7.86" fill="#c4bd92" stroke="#a39b74" stroke-width="1.1" opacity="0.3" transform="rotate(0 257.73 1216.57)"/>
<ellipse cx="248.56" cy="1224.42" rx="3.27" ry="11.78" fill="#d3d1be" stroke="#e4e4df" stroke-width="1.1" opacity="0.4" transform="rotate(0 248.56 1224.42)"/>
<ellipse cx="227.62" cy="1238.82" rx="3.93" ry="11.78" fill="#d3d1be" stroke="#e4e4df" stroke-width="1.1" opacity="0.4" transform="rotate(0 227.62 1238.82)"/>
<ellipse cx="239.4" cy="1250.61" rx="3.93" ry="11.78" fill="#d3d1be" stroke="#e4e4df" stroke-width="1.1" opacity="0.4" transform="rotate(0 239.4 1250.61)"/>
<ellipse cx="257.07" cy="1254.53" rx="3.93" ry="14.4" fill="#d3d1be" stroke="#e4e4df" stroke-width="1.1" opacity="0.4" transform="rotate(0 257.07 1254.53)"/>
<ellipse cx="265.58" cy="1253.23" rx="2.62" ry="13.09" fill="#d3d1be" stroke="#e4e4df" stroke-width="1.1" opacity="0.4" transform="rotate(0 265.58 1253.23)"/>
<ellipse cx="106.51" cy="1245.37" rx="3.93" ry="4.58" fill="#c4bd92" stroke="#a39b74" stroke-width="1.1" opacity="0.45" transform="rotate(0 106.51 1245.37)"/>
<ellipse cx="289.15" cy="1264.35" rx="5.24" ry="4.58" fill="#d3d1be" stroke="#e4e4df" stroke-width="1.1" opacity="0.4" transform="rotate(0 289.15 1264.35)"/>
<ellipse cx="300.28" cy="1265.01" rx="2.88" ry="3.27" fill="#c4bd92" stroke="#a39b74" stroke-width="1.1" opacity="0.35" transform="rotate(0 300.28 1265.01)"/>
<ellipse cx="166.08" cy="1267.63" rx="3.93" ry="13.09" fill="#d3d1be" stroke="#e4e4df" stroke-width="1.1" opacity="0.4" transform="rotate(-25 166.08 1267.63)"/>
<ellipse cx="184.41" cy="1282.03" rx="5.24" ry="15.71" fill="#d3d1be" stroke="#e4e4df" stroke-width="1.1" opacity="0.4" transform="rotate(-25 184.41 1282.03)"/>
<ellipse cx="146.44" cy="1283.34" rx="3.93" ry="11.78" fill="#d3d1be" stroke="#e4e4df" stroke-width="1.1" opacity="0.4" transform="rotate(15 146.44 1283.34)"/>
<ellipse cx="266.89" cy="1295.12" rx="3.93" ry="20.95" fill="#d3d1be" stroke="#e4e4df" stroke-width="1.1" opacity="0.4" transform="rotate(-55 266.89 1295.12)"/>
<ellipse cx="118.95" cy="1310.83" rx="5.24" ry="11.78" fill="#d3d1be" stroke="#e4e4df" stroke-width="1.1" opacity="0.4" transform="rotate(15 118.95 1310.83)"/>
<ellipse cx="143.82" cy="1313.45" rx="4.58" ry="13.09" fill="#d3d1be" stroke="#e4e4df" stroke-width="1.1" opacity="0.4" transform="rotate(-20 143.82 1313.45)"/>
<ellipse cx="210.59" cy="1308.21" rx="4.58" ry="15.71" fill="#d3d1be" stroke="#e4e4df" stroke-width="1.1" opacity="0.4" transform="rotate(-25 210.59 1308.21)"/>
<ellipse cx="231.54" cy="1321.31" rx="4.58" ry="14.4" fill="#d3d1be" stroke="#e4e4df" stroke-width="1.1" opacity="0.4" transform="rotate(-25 231.54 1321.31)"/>
<ellipse cx="204.05" cy="1330.47" rx="4.58" ry="14.4" fill="#d3d1be" stroke="#e4e4df" stroke-width="1.1" opacity="0.4" transform="rotate(-40 204.05 1330.47)"/>
<ellipse cx="276.06" cy="1321.31" rx="3.27" ry="15.71" fill="#d3d1be" stroke="#e4e4df" stroke-width="1.1" opacity="0.4" transform="rotate(-30 276.06 1321.31)"/>
<ellipse cx="117.64" cy="1335.71" rx="4.58" ry="11.78" fill="#d3d1be" stroke="#e4e4df" stroke-width="1.1" opacity="0.4" transform="rotate(10 117.64 1335.71)"/>
<ellipse cx="129.42" cy="1344.87" rx="4.58" ry="11.78" fill="#d3d1be" stroke="#e4e4df" stroke-width="1.1" opacity="0.4" transform="rotate(0 129.42 1344.87)"/>
<ellipse cx="147.75" cy="1344.87" rx="5.24" ry="14.4" fill="#d3d1be" stroke="#e4e4df" stroke-width="1.1" opacity="0.4" transform="rotate(-15 147.75 1344.87)"/>
<ellipse cx="160.84" cy="1346.18" rx="3.93" ry="11.78" fill="#d3d1be" stroke="#e4e4df" stroke-width="1.1" opacity="0.4" transform="rotate(-20 160.84 1346.18)"/>
<ellipse cx="297" cy="1338.33" rx="3.93" ry="11.78" fill="#d3d1be" stroke="#e4e4df" stroke-width="1.1" opacity="0.4" transform="rotate(-25 297 1338.33)"/>
<ellipse cx="286.53" cy="1352.73" rx="4.58" ry="11.78" fill="#d3d1be" stroke="#e4e4df" stroke-width="1.1" opacity="0.4" transform="rotate(-15 286.53 1352.73)"/>
<ellipse cx="218.45" cy="1359.27" rx="4.58" ry="11.78" fill="#d3d1be" stroke="#e4e4df" stroke-width="1.1" opacity="0.4" transform="rotate(-35 218.45 1359.27)"/>
<ellipse cx="178.52" cy="1368.44" rx="5.24" ry="4.58" fill="#c4bd92" stroke="#a39b74" stroke-width="1.1" opacity="0.42" transform="rotate(0 178.52 1368.44)"/>
<ellipse cx="299.62" cy="1369.75" rx="3.27" ry="7.86" fill="#d3d1be" stroke="#e4e4df" stroke-width="1.1" opacity="0.4" transform="rotate(-20 299.62 1369.75)"/>
<ellipse cx="197.5" cy="1372.37" rx="4.58" ry="5.24" fill="#d3d1be" stroke="#e4e4df" stroke-width="1.1" opacity="0.4" transform="rotate(0 197.5 1372.37)"/>
<ellipse cx="218.45" cy="1374.98" rx="5.24" ry="3.93" fill="#d3d1be" stroke="#e4e4df" stroke-width="1.1" opacity="0.4" transform="rotate(0 218.45 1374.98)"/>
</g></g>
<clipPath id="t1"><rect x="309.2" y="1010" width="200.3" height="181"/></clipPath>
<clipPath id="u1"><rect x="309.2" y="1198" width="200.3" height="181"/></clipPath>
<rect x="309.2" y="1010" width="200.3" height="181" fill="rgb(0,0,0)"/>
<g clip-path="url(#t1)"><g filter="url(#b2)">
<ellipse cx="385.17" cy="1016.13" rx="5.89" ry="3.93" fill="rgb(10,131,12)" transform="rotate(20 385.17 1016.13)"/>
<ellipse cx="398.92" cy="1023.33" rx="4.58" ry="4.58" fill="rgb(13,145,16)" transform="rotate(0 398.92 1023.33)"/>
<ellipse cx="396.96" cy="1035.77" rx="6.55" ry="6.55" fill="rgb(8,117,9)" transform="rotate(0 396.96 1035.77)"/>
<ellipse cx="436.23" cy="1022.02" rx="9.16" ry="4.58" fill="rgb(6,103,7)" transform="rotate(30 436.23 1022.02)"/>
<ellipse cx="450.64" cy="1037.73" rx="10.08" ry="5.11" fill="rgb(1,48,1)" opacity="0.8" transform="rotate(35 450.64 1037.73)"/>
<ellipse cx="450.64" cy="1037.73" rx="5.54" ry="2.55" fill="rgb(2,65,2)" transform="rotate(35 450.64 1037.73)"/>
<ellipse cx="412.01" cy="1056.06" rx="5.89" ry="5.24" fill="rgb(17,160,20)" transform="rotate(0 412.01 1056.06)"/>
<ellipse cx="482.71" cy="1054.75" rx="4.58" ry="7.86" fill="rgb(6,103,7)" transform="rotate(-20 482.71 1054.75)"/>
<ellipse cx="440.16" cy="1062.61" rx="13.09" ry="7.86" fill="rgb(2,65,2)" transform="rotate(-25 440.16 1062.61)"/>
<ellipse cx="469.62" cy="1065.23" rx="9.16" ry="6.55" fill="rgb(2,65,2)" transform="rotate(0 469.62 1065.23)"/>
<ellipse cx="434.92" cy="1080.94" rx="5.24" ry="5.24" fill="rgb(10,131,12)" transform="rotate(0 434.92 1080.94)"/>
<ellipse cx="444.09" cy="1088.79" rx="5.89" ry="5.24" fill="rgb(10,131,12)" transform="rotate(0 444.09 1088.79)"/>
<ellipse cx="466.35" cy="1082.25" rx="7.2" ry="6.55" fill="rgb(21,175,25)" transform="rotate(0 466.35 1082.25)"/>
<ellipse cx="373.39" cy="1091.41" rx="5.11" ry="21.6" fill="rgb(8,120,10)" opacity="0.8" transform="rotate(20 373.39 1091.41)"/>
<ellipse cx="373.39" cy="1091.41" rx="2.81" ry="10.8" fill="rgb(17,160,20)" transform="rotate(20 373.39 1091.41)"/>
<ellipse cx="336.73" cy="1095.99" rx="3.93" ry="5.24" fill="rgb(17,160,20)" transform="rotate(0 336.73 1095.99)"/>
<ellipse cx="345.9" cy="1099.27" rx="3.93" ry="5.89" fill="rgb(13,145,16)" transform="rotate(0 345.9 1099.27)"/>
<ellipse cx="404.16" cy="1098.61" rx="5.24" ry="5.89" fill="rgb(30,206,36)" transform="rotate(0 404.16 1098.61)"/>
<ellipse cx="415.29" cy="1104.5" rx="7.2" ry="14.4" fill="rgb(36,222,43)" transform="rotate(25 415.29 1104.5)"/>
<ellipse cx="390.41" cy="1109.74" rx="3.93" ry="3.93" fill="rgb(21,175,25)" transform="rotate(0 390.41 1109.74)"/>
<ellipse cx="458.49" cy="1120.21" rx="5.24" ry="7.2" fill="rgb(17,160,20)" transform="rotate(-20 458.49 1120.21)"/>
<ellipse cx="504.31" cy="1117.59" rx="5.24" ry="7.86" fill="rgb(0,42,0)" transform="rotate(0 504.31 1117.59)"/>
<ellipse cx="348.51" cy="1130.69" rx="4.58" ry="7.86" fill="rgb(17,160,20)" transform="rotate(15 348.51 1130.69)"/>
<ellipse cx="377.97" cy="1130.03" rx="5.24" ry="5.24" fill="rgb(17,160,20)" transform="rotate(0 377.97 1130.03)"/>
<ellipse cx="406.12" cy="1130.69" rx="4.58" ry="7.2" fill="rgb(8,117,9)" transform="rotate(0 406.12 1130.69)"/>
<ellipse cx="393.68" cy="1135.92" rx="4.58" ry="6.55" fill="rgb(8,117,9)" transform="rotate(20 393.68 1135.92)"/>
<ellipse cx="398.27" cy="1143.78" rx="5.24" ry="4.58" fill="rgb(2,65,2)" transform="rotate(0 398.27 1143.78)"/>
<ellipse cx="324.95" cy="1152.94" rx="15.84" ry="4.26" fill="rgb(0,39,0)" opacity="0.8" transform="rotate(-15 324.95 1152.94)"/>
<ellipse cx="324.95" cy="1152.94" rx="8.71" ry="2.13" fill="rgb(1,53,1)" transform="rotate(-15 324.95 1152.94)"/>
<ellipse cx="448.02" cy="1156.22" rx="6.55" ry="5.89" fill="rgb(42,238,51)" transform="rotate(0 448.02 1156.22)"/>
<ellipse cx="478.78" cy="1167.35" rx="6.55" ry="10.47" fill="rgb(6,103,7)" transform="rotate(-15 478.78 1167.35)"/>
<ellipse cx="450.64" cy="1185.02" rx="5.24" ry="5.24" fill="rgb(25,190,30)" transform="rotate(0 450.64 1185.02)"/>
<ellipse cx="504.31" cy="1184.37" rx="5.24" ry="6.55" fill="rgb(1,53,1)" transform="rotate(0 504.31 1184.37)"/>
</g></g>
<rect x="309.2" y="1198" width="200.3" height="181" fill="url(#bfg)"/>
<g clip-path="url(#u1)"><g filter="url(#b1)">
<ellipse cx="385.17" cy="1204.13" rx="5.89" ry="3.93" fill="#c4bd92" stroke="#a39b74" stroke-width="1.1" opacity="0.3" transform="rotate(20 385.17 1204.13)"/>
<ellipse cx="398.92" cy="1211.33" rx="4.58" ry="4.58" fill="#c4bd92" stroke="#a39b74" stroke-width="1.1" opacity="0.33" transform="rotate(0 398.92 1211.33)"/>
<ellipse cx="396.96" cy="1223.77" rx="6.55" ry="6.55" fill="#d3d1be" stroke="#e4e4df" stroke-width="1.1" opacity="0.4" transform="rotate(0 396.96 1223.77)"/>
<ellipse cx="436.23" cy="1210.02" rx="9.16" ry="4.58" fill="#d3d1be" stroke="#e4e4df" stroke-width="1.1" opacity="0.4" transform="rotate(30 436.23 1210.02)"/>
<ellipse cx="450.64" cy="1225.73" rx="9.16" ry="3.93" fill="#d3d1be" stroke="#e4e4df" stroke-width="1.1" opacity="0.4" transform="rotate(35 450.64 1225.73)"/>
<ellipse cx="412.01" cy="1244.06" rx="5.89" ry="5.24" fill="#c4bd92" stroke="#a39b74" stroke-width="1.1" opacity="0.35" transform="rotate(0 412.01 1244.06)"/>
<ellipse cx="482.71" cy="1242.75" rx="4.58" ry="7.86" fill="#d3d1be" stroke="#e4e4df" stroke-width="1.1" opacity="0.4" transform="rotate(-20 482.71 1242.75)"/>
<ellipse cx="440.16" cy="1250.61" rx="13.09" ry="7.86" fill="#d3d1be" stroke="#e4e4df" stroke-width="1.1" opacity="0.4" transform="rotate(-25 440.16 1250.61)"/>
<ellipse cx="469.62" cy="1253.23" rx="9.16" ry="6.55" fill="#d3d1be" stroke="#e4e4df" stroke-width="1.1" opacity="0.4" transform="rotate(0 469.62 1253.23)"/>
<ellipse cx="434.92" cy="1268.94" rx="5.24" ry="5.24" fill="#c4bd92" stroke="#a39b74" stroke-width="1.1" opacity="0.3" transform="rotate(0 434.92 1268.94)"/>
<ellipse cx="444.09" cy="1276.79" rx="5.89" ry="5.24" fill="#c4bd92" stroke="#a39b74" stroke-width="1.1" opacity="0.3" transform="rotate(0 444.09 1276.79)"/>
<ellipse cx="466.35" cy="1270.25" rx="7.2" ry="6.55" fill="#c4bd92" stroke="#a39b74" stroke-width="1.1" opacity="0.38" transform="rotate(0 466.35 1270.25)"/>
<ellipse cx="373.39" cy="1279.41" rx="3.93" ry="19.64" fill="#c4bd92" stroke="#a39b74" stroke-width="1.1" opacity="0.35" transform="rotate(20 373.39 1279.41)"/>
<ellipse cx="336.73" cy="1283.99" rx="3.93" ry="5.24" fill="#c4bd92" stroke="#a39b74" stroke-width="1.1" opacity="0.35" transform="rotate(0 336.73 1283.99)"/>
<ellipse cx="345.9" cy="1287.27" rx="3.93" ry="5.89" fill="#c4bd92" stroke="#a39b74" stroke-width="1.1" opacity="0.33" transform="rotate(0 345.9 1287.27)"/>
<ellipse cx="404.16" cy="1286.61" rx="5.24" ry="5.89" fill="#c4bd92" stroke="#a39b74" stroke-width="1.1" opacity="0.42" transform="rotate(0 404.16 1286.61)"/>
<ellipse cx="415.29" cy="1292.5" rx="7.2" ry="14.4" fill="#c4bd92" stroke="#a39b74" stroke-width="1.1" opacity="0.45" transform="rotate(25 415.29 1292.5)"/>
<ellipse cx="390.41" cy="1297.74" rx="3.93" ry="3.93" fill="#c4bd92" stroke="#a39b74" stroke-width="1.1" opacity="0.38" transform="rotate(0 390.41 1297.74)"/>
<ellipse cx="458.49" cy="1308.21" rx="5.24" ry="7.2" fill="#c4bd92" stroke="#a39b74" stroke-width="1.1" opacity="0.35" transform="rotate(-20 458.49 1308.21)"/>
<ellipse cx="504.31" cy="1305.59" rx="5.24" ry="7.86" fill="#d3d1be" stroke="#e4e4df" stroke-width="1.1" opacity="0.4" transform="rotate(0 504.31 1305.59)"/>
<ellipse cx="348.51" cy="1318.69" rx="4.58" ry="7.86" fill="#c4bd92" stroke="#a39b74" stroke-width="1.1" opacity="0.35" transform="rotate(15 348.51 1318.69)"/>
<ellipse cx="377.97" cy="1318.03" rx="5.24" ry="5.24" fill="#c4bd92" stroke="#a39b74" stroke-width="1.1" opacity="0.35" transform="rotate(0 377.97 1318.03)"/>
<ellipse cx="406.12" cy="1318.69" rx="4.58" ry="7.2" fill="#d3d1be" stroke="#e4e4df" stroke-width="1.1" opacity="0.4" transform="rotate(0 406.12 1318.69)"/>
<ellipse cx="393.68" cy="1323.92" rx="4.58" ry="6.55" fill="#d3d1be" stroke="#e4e4df" stroke-width="1.1" opacity="0.4" transform="rotate(20 393.68 1323.92)"/>
<ellipse cx="398.27" cy="1331.78" rx="5.24" ry="4.58" fill="#d3d1be" stroke="#e4e4df" stroke-width="1.1" opacity="0.4" transform="rotate(0 398.27 1331.78)"/>
<ellipse cx="324.95" cy="1340.94" rx="14.4" ry="3.27" fill="#d3d1be" stroke="#e4e4df" stroke-width="1.1" opacity="0.4" transform="rotate(-15 324.95 1340.94)"/>
<ellipse cx="448.02" cy="1344.22" rx="6.55" ry="5.89" fill="#c4bd92" stroke="#a39b74" stroke-width="1.1" opacity="0.47" transform="rotate(0 448.02 1344.22)"/>
<ellipse cx="478.78" cy="1355.35" rx="6.55" ry="10.47" fill="#d3d1be" stroke="#e4e4df" stroke-width="1.1" opacity="0.4" transform="rotate(-15 478.78 1355.35)"/>
<ellipse cx="450.64" cy="1373.02" rx="5.24" ry="5.24" fill="#c4bd92" stroke="#a39b74" stroke-width="1.1" opacity="0.4" transform="rotate(0 450.64 1373.02)"/>
<ellipse cx="504.31" cy="1372.37" rx="5.24" ry="6.55" fill="#d3d1be" stroke="#e4e4df" stroke-width="1.1" opacity="0.4" transform="rotate(0 504.31 1372.37)"/>
</g></g>
<clipPath id="t2"><rect x="515.7" y="1010" width="200.3" height="181"/></clipPath>
<clipPath id="u2"><rect x="515.7" y="1198" width="200.3" height="181"/></clipPath>
<rect x="515.7" y="1010" width="200.3" height="181" fill="rgb(0,0,0)"/>
<g clip-path="url(#t2)"><g filter="url(#b2)">
<ellipse cx="571.53" cy="1023.33" rx="6.55" ry="13.09" fill="rgb(13,145,16)" transform="rotate(-35 571.53 1023.33)"/>
<ellipse cx="564.99" cy="1045.59" rx="5.24" ry="4.58" fill="rgb(6,103,7)" transform="rotate(0 564.99 1045.59)"/>
<ellipse cx="609.5" cy="1039.04" rx="10.08" ry="3.74" fill="rgb(4,87,5)" opacity="0.8" transform="rotate(35 609.5 1039.04)"/>
<ellipse cx="609.5" cy="1039.04" rx="5.54" ry="1.87" fill="rgb(8,117,9)" transform="rotate(35 609.5 1039.04)"/>
<ellipse cx="672.35" cy="1024.64" rx="4.58" ry="9.16" fill="rgb(6,103,7)" transform="rotate(-25 672.35 1024.64)"/>
<ellipse cx="670.38" cy="1041" rx="3.93" ry="5.24" fill="rgb(13,145,16)" transform="rotate(0 670.38 1041)"/>
<ellipse cx="551.9" cy="1067.84" rx="14.4" ry="6.81" fill="rgb(0,39,0)" opacity="0.8" transform="rotate(0 551.9 1067.84)"/>
<ellipse cx="551.9" cy="1067.84" rx="7.92" ry="3.4" fill="rgb(1,53,1)" transform="rotate(0 551.9 1067.84)"/>
<ellipse cx="617.36" cy="1078.32" rx="6.55" ry="13.09" fill="rgb(4,90,5)" transform="rotate(-40 617.36 1078.32)"/>
<ellipse cx="654.67" cy="1077.66" rx="4.58" ry="4.58" fill="rgb(10,131,12)" transform="rotate(0 654.67 1077.66)"/>
<ellipse cx="566.3" cy="1084.21" rx="5.24" ry="5.24" fill="rgb(13,145,16)" transform="rotate(30 566.3 1084.21)"/>
<ellipse cx="581.35" cy="1083.55" rx="10.08" ry="4.26" fill="rgb(2,67,2)" opacity="0.8" transform="rotate(25 581.35 1083.55)"/>
<ellipse cx="581.35" cy="1083.55" rx="5.54" ry="2.13" fill="rgb(4,90,5)" transform="rotate(25 581.35 1083.55)"/>
<ellipse cx="543.39" cy="1095.99" rx="7.2" ry="7.2" fill="rgb(17,160,20)" transform="rotate(0 543.39 1095.99)"/>
<ellipse cx="600.34" cy="1096.65" rx="7.86" ry="4.58" fill="rgb(3,77,3)" transform="rotate(35 600.34 1096.65)"/>
<ellipse cx="619.32" cy="1100.57" rx="6.55" ry="6.55" fill="rgb(21,175,25)" transform="rotate(0 619.32 1100.57)"/>
<ellipse cx="597.72" cy="1109.08" rx="5.89" ry="5.24" fill="rgb(21,175,25)" transform="rotate(0 597.72 1109.08)"/>
<ellipse cx="688.06" cy="1091.41" rx="6.55" ry="5.89" fill="rgb(21,175,25)" transform="rotate(0 688.06 1091.41)"/>
<ellipse cx="701.15" cy="1096.65" rx="5.11" ry="11.52" fill="rgb(2,67,2)" opacity="0.8" transform="rotate(-35 701.15 1096.65)"/>
<ellipse cx="701.15" cy="1096.65" rx="2.81" ry="5.76" fill="rgb(4,90,5)" transform="rotate(-35 701.15 1096.65)"/>
<ellipse cx="553.21" cy="1113.67" rx="6.55" ry="4.58" fill="rgb(10,131,12)" transform="rotate(0 553.21 1113.67)"/>
<ellipse cx="667.76" cy="1109.74" rx="5.24" ry="7.86" fill="rgb(17,160,20)" transform="rotate(25 667.76 1109.74)"/>
<ellipse cx="680.2" cy="1116.29" rx="7.86" ry="7.86" fill="rgb(3,77,3)" transform="rotate(0 680.2 1116.29)"/>
<ellipse cx="706.39" cy="1118.9" rx="7.86" ry="7.86" fill="rgb(0,31,0)" transform="rotate(0 706.39 1118.9)"/>
<ellipse cx="572.19" cy="1128.72" rx="7.2" ry="4.58" fill="rgb(17,160,20)" transform="rotate(20 572.19 1128.72)"/>
<ellipse cx="540.11" cy="1134.62" rx="3.93" ry="6.55" fill="rgb(21,175,25)" transform="rotate(0 540.11 1134.62)"/>
<ellipse cx="579.39" cy="1137.23" rx="5.24" ry="6.55" fill="rgb(17,160,20)" transform="rotate(0 579.39 1137.23)"/>
<ellipse cx="543.39" cy="1145.09" rx="5.24" ry="6.55" fill="rgb(30,206,36)" transform="rotate(0 543.39 1145.09)"/>
<ellipse cx="589.86" cy="1145.09" rx="7.66" ry="17.28" fill="rgb(3,77,3)" opacity="0.8" transform="rotate(35 589.86 1145.09)"/>
<ellipse cx="589.86" cy="1145.09" rx="4.21" ry="8.64" fill="rgb(6,103,7)" transform="rotate(35 589.86 1145.09)"/>
<ellipse cx="691.98" cy="1139.85" rx="12.96" ry="6.81" fill="rgb(2,67,2)" opacity="0.8" transform="rotate(15 691.98 1139.85)"/>
<ellipse cx="691.98" cy="1139.85" rx="7.13" ry="3.4" fill="rgb(4,90,5)" transform="rotate(15 691.98 1139.85)"/>
<ellipse cx="557.13" cy="1153.6" rx="5.24" ry="5.24" fill="rgb(25,190,30)" transform="rotate(0 557.13 1153.6)"/>
<ellipse cx="564.99" cy="1160.8" rx="8.64" ry="4.26" fill="rgb(7,108,8)" opacity="0.8" transform="rotate(0 564.99 1160.8)"/>
<ellipse cx="564.99" cy="1160.8" rx="4.75" ry="2.13" fill="rgb(13,145,16)" transform="rotate(0 564.99 1160.8)"/>
<ellipse cx="659.25" cy="1147.71" rx="6.81" ry="15.84" fill="rgb(1,57,1)" opacity="0.8" transform="rotate(20 659.25 1147.71)"/>
<ellipse cx="659.25" cy="1147.71" rx="3.74" ry="7.92" fill="rgb(3,77,3)" transform="rotate(20 659.25 1147.71)"/>
<ellipse cx="610.81" cy="1166.04" rx="5.11" ry="18.72" fill="rgb(2,67,2)" opacity="0.8" transform="rotate(0 610.81 1166.04)"/>
<ellipse cx="610.81" cy="1166.04" rx="2.81" ry="9.36" fill="rgb(4,90,5)" transform="rotate(0 610.81 1166.04)"/>
<ellipse cx="644.85" cy="1171.27" rx="6.81" ry="15.84" fill="rgb(2,67,2)" opacity="0.8" transform="rotate(20 644.85 1171.27)"/>
<ellipse cx="644.85" cy="1171.27" rx="3.74" ry="7.92" fill="rgb(4,90,5)" transform="rotate(20 644.85 1171.27)"/>
<ellipse cx="652.71" cy="1179.13" rx="3.93" ry="7.86" fill="rgb(17,160,20)" transform="rotate(35 652.71 1179.13)"/>
<ellipse cx="625.21" cy="1186.98" rx="5.24" ry="5.24" fill="rgb(0,42,0)" transform="rotate(0 625.21 1186.98)"/>
</g></g>
<rect x="515.7" y="1198" width="200.3" height="181" fill="url(#bfg)"/>
<g clip-path="url(#u2)"><g filter="url(#b1)">
<ellipse cx="571.53" cy="1211.33" rx="6.55" ry="13.09" fill="#c4bd92" stroke="#a39b74" stroke-width="1.1" opacity="0.33" transform="rotate(-35 571.53 1211.33)"/>
<ellipse cx="564.99" cy="1233.59" rx="5.24" ry="4.58" fill="#d3d1be" stroke="#e4e4df" stroke-width="1.1" opacity="0.4" transform="rotate(0 564.99 1233.59)"/>
<ellipse cx="609.5" cy="1227.04" rx="9.16" ry="2.88" fill="#d3d1be" stroke="#e4e4df" stroke-width="1.1" opacity="0.4" transform="rotate(35 609.5 1227.04)"/>
<ellipse cx="672.35" cy="1212.64" rx="4.58" ry="9.16" fill="#d3d1be" stroke="#e4e4df" stroke-width="1.1" opacity="0.4" transform="rotate(-25 672.35 1212.64)"/>
<ellipse cx="670.38" cy="1229" rx="3.93" ry="5.24" fill="#c4bd92" stroke="#a39b74" stroke-width="1.1" opacity="0.33" transform="rotate(0 670.38 1229)"/>
<ellipse cx="551.9" cy="1255.84" rx="13.09" ry="5.24" fill="#d3d1be" stroke="#e4e4df" stroke-width="1.1" opacity="0.4" transform="rotate(0 551.9 1255.84)"/>
<ellipse cx="617.36" cy="1266.32" rx="6.55" ry="13.09" fill="#d3d1be" stroke="#e4e4df" stroke-width="1.1" opacity="0.4" transform="rotate(-40 617.36 1266.32)"/>
<ellipse cx="654.67" cy="1265.66" rx="4.58" ry="4.58" fill="#c4bd92" stroke="#a39b74" stroke-width="1.1" opacity="0.3" transform="rotate(0 654.67 1265.66)"/>
<ellipse cx="566.3" cy="1272.21" rx="5.24" ry="5.24" fill="#c4bd92" stroke="#a39b74" stroke-width="1.1" opacity="0.33" transform="rotate(30 566.3 1272.21)"/>
<ellipse cx="581.35" cy="1271.55" rx="9.16" ry="3.27" fill="#d3d1be" stroke="#e4e4df" stroke-width="1.1" opacity="0.4" transform="rotate(25 581.35 1271.55)"/>
<ellipse cx="543.39" cy="1283.99" rx="7.2" ry="7.2" fill="#c4bd92" stroke="#a39b74" stroke-width="1.1" opacity="0.35" transform="rotate(0 543.39 1283.99)"/>
<ellipse cx="600.34" cy="1284.65" rx="7.86" ry="4.58" fill="#d3d1be" stroke="#e4e4df" stroke-width="1.1" opacity="0.4" transform="rotate(35 600.34 1284.65)"/>
<ellipse cx="619.32" cy="1288.57" rx="6.55" ry="6.55" fill="#c4bd92" stroke="#a39b74" stroke-width="1.1" opacity="0.38" transform="rotate(0 619.32 1288.57)"/>
<ellipse cx="597.72" cy="1297.08" rx="5.89" ry="5.24" fill="#c4bd92" stroke="#a39b74" stroke-width="1.1" opacity="0.38" transform="rotate(0 597.72 1297.08)"/>
<ellipse cx="688.06" cy="1279.41" rx="6.55" ry="5.89" fill="#c4bd92" stroke="#a39b74" stroke-width="1.1" opacity="0.38" transform="rotate(0 688.06 1279.41)"/>
<ellipse cx="701.15" cy="1284.65" rx="3.93" ry="10.47" fill="#d3d1be" stroke="#e4e4df" stroke-width="1.1" opacity="0.4" transform="rotate(-35 701.15 1284.65)"/>
<ellipse cx="553.21" cy="1301.67" rx="6.55" ry="4.58" fill="#c4bd92" stroke="#a39b74" stroke-width="1.1" opacity="0.3" transform="rotate(0 553.21 1301.67)"/>
<ellipse cx="667.76" cy="1297.74" rx="5.24" ry="7.86" fill="#c4bd92" stroke="#a39b74" stroke-width="1.1" opacity="0.35" transform="rotate(25 667.76 1297.74)"/>
<ellipse cx="680.2" cy="1304.29" rx="7.86" ry="7.86" fill="#d3d1be" stroke="#e4e4df" stroke-width="1.1" opacity="0.4" transform="rotate(0 680.2 1304.29)"/>
<ellipse cx="706.39" cy="1306.9" rx="7.86" ry="7.86" fill="#d3d1be" stroke="#e4e4df" stroke-width="1.1" opacity="0.4" transform="rotate(0 706.39 1306.9)"/>
<ellipse cx="572.19" cy="1316.72" rx="7.2" ry="4.58" fill="#c4bd92" stroke="#a39b74" stroke-width="1.1" opacity="0.35" transform="rotate(20 572.19 1316.72)"/>
<ellipse cx="540.11" cy="1322.62" rx="3.93" ry="6.55" fill="#c4bd92" stroke="#a39b74" stroke-width="1.1" opacity="0.38" transform="rotate(0 540.11 1322.62)"/>
<ellipse cx="579.39" cy="1325.23" rx="5.24" ry="6.55" fill="#c4bd92" stroke="#a39b74" stroke-width="1.1" opacity="0.35" transform="rotate(0 579.39 1325.23)"/>
<ellipse cx="543.39" cy="1333.09" rx="5.24" ry="6.55" fill="#c4bd92" stroke="#a39b74" stroke-width="1.1" opacity="0.42" transform="rotate(0 543.39 1333.09)"/>
<ellipse cx="589.86" cy="1333.09" rx="5.89" ry="15.71" fill="#d3d1be" stroke="#e4e4df" stroke-width="1.1" opacity="0.4" transform="rotate(35 589.86 1333.09)"/>
<ellipse cx="691.98" cy="1327.85" rx="11.78" ry="5.24" fill="#d3d1be" stroke="#e4e4df" stroke-width="1.1" opacity="0.4" transform="rotate(15 691.98 1327.85)"/>
<ellipse cx="557.13" cy="1341.6" rx="5.24" ry="5.24" fill="#c4bd92" stroke="#a39b74" stroke-width="1.1" opacity="0.4" transform="rotate(0 557.13 1341.6)"/>
<ellipse cx="564.99" cy="1348.8" rx="7.86" ry="3.27" fill="#c4bd92" stroke="#a39b74" stroke-width="1.1" opacity="0.33" transform="rotate(0 564.99 1348.8)"/>
<ellipse cx="659.25" cy="1335.71" rx="5.24" ry="14.4" fill="#d3d1be" stroke="#e4e4df" stroke-width="1.1" opacity="0.4" transform="rotate(20 659.25 1335.71)"/>
<ellipse cx="610.81" cy="1354.04" rx="3.93" ry="17.02" fill="#d3d1be" stroke="#e4e4df" stroke-width="1.1" opacity="0.4" transform="rotate(0 610.81 1354.04)"/>
<ellipse cx="644.85" cy="1359.27" rx="5.24" ry="14.4" fill="#d3d1be" stroke="#e4e4df" stroke-width="1.1" opacity="0.4" transform="rotate(20 644.85 1359.27)"/>
<ellipse cx="652.71" cy="1367.13" rx="3.93" ry="7.86" fill="#c4bd92" stroke="#a39b74" stroke-width="1.1" opacity="0.35" transform="rotate(35 652.71 1367.13)"/>
<ellipse cx="625.21" cy="1374.98" rx="5.24" ry="5.24" fill="#d3d1be" stroke="#e4e4df" stroke-width="1.1" opacity="0.4" transform="rotate(0 625.21 1374.98)"/>
</g></g>
<clipPath id="t3"><rect x="722.5" y="1010" width="200.3" height="181"/></clipPath>
<clipPath id="u3"><rect x="722.5" y="1198" width="200.3" height="181"/></clipPath>
<rect x="722.5" y="1010" width="200.3" height="181" fill="rgb(0,8,0)"/>
<g clip-path="url(#t3)"><g filter="url(#b2)">
<ellipse cx="733.02" cy="1031.18" rx="6.81" ry="21.6" fill="rgb(0,39,0)" opacity="0.8" transform="rotate(10 733.02 1031.18)"/>
<ellipse cx="733.02" cy="1031.18" rx="3.74" ry="10.8" fill="rgb(1,53,1)" transform="rotate(10 733.02 1031.18)"/>
<ellipse cx="808.96" cy="1023.33" rx="5.89" ry="5.89" fill="rgb(3,77,3)" transform="rotate(0 808.96 1023.33)"/>
<ellipse cx="820.74" cy="1032.49" rx="7.86" ry="5.24" fill="rgb(1,53,1)" transform="rotate(0 820.74 1032.49)"/>
<ellipse cx="803.72" cy="1039.04" rx="7.86" ry="5.24" fill="rgb(21,175,25)" transform="rotate(20 803.72 1039.04)"/>
<ellipse cx="856.09" cy="1035.77" rx="7.86" ry="9.16" fill="rgb(3,77,3)" transform="rotate(0 856.09 1035.77)"/>
<ellipse cx="835.14" cy="1042.97" rx="5.24" ry="7.86" fill="rgb(1,53,1)" transform="rotate(0 835.14 1042.97)"/>
<ellipse cx="839.07" cy="1054.75" rx="5.89" ry="9.16" fill="rgb(1,53,1)" transform="rotate(0 839.07 1054.75)"/>
<ellipse cx="879.66" cy="1056.06" rx="6.81" ry="12.96" fill="rgb(1,57,1)" opacity="0.8" transform="rotate(-30 879.66 1056.06)"/>
<ellipse cx="879.66" cy="1056.06" rx="3.74" ry="6.48" fill="rgb(3,77,3)" transform="rotate(-30 879.66 1056.06)"/>
<ellipse cx="894.06" cy="1049.51" rx="5.96" ry="12.96" fill="rgb(1,48,1)" opacity="0.8" transform="rotate(-25 894.06 1049.51)"/>
<ellipse cx="894.06" cy="1049.51" rx="3.28" ry="6.48" fill="rgb(2,65,2)" transform="rotate(-25 894.06 1049.51)"/>
<ellipse cx="899.29" cy="1073.08" rx="5.96" ry="12.96" fill="rgb(0,31,0)" opacity="0.8" transform="rotate(-30 899.29 1073.08)"/>
<ellipse cx="899.29" cy="1073.08" rx="3.28" ry="6.48" fill="rgb(0,42,0)" transform="rotate(-30 899.29 1073.08)"/>
<ellipse cx="739.57" cy="1062.61" rx="6.81" ry="17.28" fill="rgb(0,39,0)" opacity="0.8" transform="rotate(5 739.57 1062.61)"/>
<ellipse cx="739.57" cy="1062.61" rx="3.74" ry="8.64" fill="rgb(1,53,1)" transform="rotate(5 739.57 1062.61)"/>
<ellipse cx="755.28" cy="1066.53" rx="6.81" ry="14.4" fill="rgb(0,39,0)" opacity="0.8" transform="rotate(-20 755.28 1066.53)"/>
<ellipse cx="755.28" cy="1066.53" rx="3.74" ry="7.2" fill="rgb(1,53,1)" transform="rotate(-20 755.28 1066.53)"/>
<ellipse cx="769.68" cy="1063.26" rx="5.24" ry="3.67" fill="rgb(17,160,20)" transform="rotate(0 769.68 1063.26)"/>
<ellipse cx="799.14" cy="1067.84" rx="5.24" ry="6.55" fill="rgb(17,160,20)" transform="rotate(0 799.14 1067.84)"/>
<ellipse cx="755.28" cy="1080.94" rx="6.81" ry="14.4" fill="rgb(0,39,0)" opacity="0.8" transform="rotate(-25 755.28 1080.94)"/>
<ellipse cx="755.28" cy="1080.94" rx="3.74" ry="7.2" fill="rgb(1,53,1)" transform="rotate(-25 755.28 1080.94)"/>
<ellipse cx="772.3" cy="1086.83" rx="3.93" ry="5.24" fill="rgb(10,131,12)" transform="rotate(0 772.3 1086.83)"/>
<ellipse cx="725.16" cy="1078.32" rx="5.11" ry="11.52" fill="rgb(0,39,0)" opacity="0.8" transform="rotate(0 725.16 1078.32)"/>
<ellipse cx="725.16" cy="1078.32" rx="2.81" ry="5.76" fill="rgb(1,53,1)" transform="rotate(0 725.16 1078.32)"/>
<ellipse cx="816.81" cy="1084.86" rx="10.47" ry="5.24" fill="rgb(0,42,0)" transform="rotate(-30 816.81 1084.86)"/>
<ellipse cx="791.94" cy="1088.79" rx="7.86" ry="6.55" fill="rgb(0,42,0)" transform="rotate(0 791.94 1088.79)"/>
<ellipse cx="837.11" cy="1095.34" rx="6.55" ry="3.67" fill="rgb(21,175,25)" transform="rotate(20 837.11 1095.34)"/>
<ellipse cx="866.56" cy="1094.03" rx="6.81" ry="15.84" fill="rgb(1,57,1)" opacity="0.8" transform="rotate(10 866.56 1094.03)"/>
<ellipse cx="866.56" cy="1094.03" rx="3.74" ry="7.92" fill="rgb(3,77,3)" transform="rotate(10 866.56 1094.03)"/>
<ellipse cx="753.97" cy="1097.96" rx="14.4" ry="7.66" fill="rgb(1,48,1)" opacity="0.8" transform="rotate(25 753.97 1097.96)"/>
<ellipse cx="753.97" cy="1097.96" rx="7.92" ry="3.83" fill="rgb(2,65,2)" transform="rotate(25 753.97 1097.96)"/>
<ellipse cx="731.71" cy="1103.19" rx="5.24" ry="9.16" fill="rgb(1,53,1)" transform="rotate(-20 731.71 1103.19)"/>
<ellipse cx="792.59" cy="1104.5" rx="7.2" ry="9.16" fill="rgb(3,77,3)" transform="rotate(15 792.59 1104.5)"/>
<ellipse cx="812.88" cy="1111.05" rx="14.4" ry="6.81" fill="rgb(0,39,0)" opacity="0.8" transform="rotate(-35 812.88 1111.05)"/>
<ellipse cx="812.88" cy="1111.05" rx="7.92" ry="3.4" fill="rgb(1,53,1)" transform="rotate(-35 812.88 1111.05)"/>
<ellipse cx="835.14" cy="1108.43" rx="6.55" ry="9.16" fill="rgb(1,53,1)" transform="rotate(20 835.14 1108.43)"/>
<ellipse cx="760.51" cy="1114.32" rx="23.04" ry="5.96" fill="rgb(1,48,1)" opacity="0.8" transform="rotate(-5 760.51 1114.32)"/>
<ellipse cx="760.51" cy="1114.32" rx="12.67" ry="2.98" fill="rgb(2,65,2)" transform="rotate(-5 760.51 1114.32)"/>
<ellipse cx="735.64" cy="1128.07" rx="14.4" ry="7.66" fill="rgb(0,39,0)" opacity="0.8" transform="rotate(5 735.64 1128.07)"/>
<ellipse cx="735.64" cy="1128.07" rx="7.92" ry="3.83" fill="rgb(1,53,1)" transform="rotate(5 735.64 1128.07)"/>
<ellipse cx="810.27" cy="1132" rx="14.4" ry="6.81" fill="rgb(1,57,1)" opacity="0.8" transform="rotate(-35 810.27 1132)"/>
<ellipse cx="810.27" cy="1132" rx="7.92" ry="3.4" fill="rgb(3,77,3)" transform="rotate(-35 810.27 1132)"/>
<ellipse cx="839.07" cy="1135.92" rx="9.16" ry="7.86" fill="rgb(0,42,0)" transform="rotate(0 839.07 1135.92)"/>
<ellipse cx="757.9" cy="1137.23" rx="15.84" ry="5.96" fill="rgb(0,31,0)" opacity="0.8" transform="rotate(-10 757.9 1137.23)"/>
<ellipse cx="757.9" cy="1137.23" rx="8.71" ry="2.98" fill="rgb(0,42,0)" transform="rotate(-10 757.9 1137.23)"/>
<ellipse cx="863.29" cy="1143.13" rx="4.58" ry="5.24" fill="rgb(3,77,3)" transform="rotate(0 863.29 1143.13)"/>
<ellipse cx="918.28" cy="1143.13" rx="4.58" ry="6.55" fill="rgb(2,65,2)" transform="rotate(0 918.28 1143.13)"/>
<ellipse cx="738.26" cy="1149.02" rx="15.84" ry="6.81" fill="rgb(0,31,0)" opacity="0.8" transform="rotate(10 738.26 1149.02)"/>
<ellipse cx="738.26" cy="1149.02" rx="8.71" ry="3.4" fill="rgb(0,42,0)" transform="rotate(10 738.26 1149.02)"/>
<ellipse cx="795.21" cy="1154.91" rx="5.24" ry="5.24" fill="rgb(21,175,25)" transform="rotate(0 795.21 1154.91)"/>
<ellipse cx="755.28" cy="1155.56" rx="10.47" ry="5.24" fill="rgb(1,53,1)" transform="rotate(0 755.28 1155.56)"/>
<ellipse cx="875.73" cy="1157.53" rx="3.93" ry="4.58" fill="rgb(4,90,5)" transform="rotate(0 875.73 1157.53)"/>
<ellipse cx="886.86" cy="1160.15" rx="4.58" ry="5.89" fill="rgb(2,65,2)" transform="rotate(0 886.86 1160.15)"/>
<ellipse cx="846.92" cy="1160.8" rx="15.84" ry="5.96" fill="rgb(0,31,0)" opacity="0.8" transform="rotate(15 846.92 1160.8)"/>
<ellipse cx="846.92" cy="1160.8" rx="8.71" ry="2.98" fill="rgb(0,42,0)" transform="rotate(15 846.92 1160.8)"/>
<ellipse cx="784.08" cy="1169.96" rx="10.47" ry="5.24" fill="rgb(0,42,0)" transform="rotate(-10 784.08 1169.96)"/>
<ellipse cx="824.67" cy="1171.27" rx="10.47" ry="5.24" fill="rgb(0,42,0)" transform="rotate(25 824.67 1171.27)"/>
<ellipse cx="899.29" cy="1167.35" rx="7.86" ry="10.47" fill="rgb(0,31,0)" transform="rotate(-30 899.29 1167.35)"/>
<ellipse cx="742.18" cy="1171.27" rx="21.6" ry="6.81" fill="rgb(0,23,0)" opacity="0.8" transform="rotate(0 742.18 1171.27)"/>
<ellipse cx="742.18" cy="1171.27" rx="11.88" ry="3.4" fill="rgb(0,31,0)" transform="rotate(0 742.18 1171.27)"/>
<ellipse cx="736.95" cy="1185.68" rx="6.55" ry="5.24" fill="rgb(3,77,3)" transform="rotate(0 736.95 1185.68)"/>
<ellipse cx="768.37" cy="1186.98" rx="12.96" ry="5.96" fill="rgb(0,39,0)" opacity="0.8" transform="rotate(0 768.37 1186.98)"/>
<ellipse cx="768.37" cy="1186.98" rx="7.13" ry="2.98" fill="rgb(1,53,1)" transform="rotate(0 768.37 1186.98)"/>
<ellipse cx="815.5" cy="1185.68" rx="9.16" ry="5.24" fill="rgb(0,31,0)" transform="rotate(30 815.5 1185.68)"/>
<ellipse cx="883.58" cy="1180.44" rx="11.52" ry="5.96" fill="rgb(0,23,0)" opacity="0.8" transform="rotate(30 883.58 1180.44)"/>
<ellipse cx="883.58" cy="1180.44" rx="6.34" ry="2.98" fill="rgb(0,31,0)" transform="rotate(30 883.58 1180.44)"/>
</g></g>
<rect x="722.5" y="1198" width="200.3" height="181" fill="url(#bfg)"/>
<g clip-path="url(#u3)"><g filter="url(#b1)">
<ellipse cx="733.02" cy="1219.18" rx="5.24" ry="19.64" fill="#d3d1be" stroke="#e4e4df" stroke-width="1.1" opacity="0.4" transform="rotate(10 733.02 1219.18)"/>
<ellipse cx="808.96" cy="1211.33" rx="5.89" ry="5.89" fill="#d3d1be" stroke="#e4e4df" stroke-width="1.1" opacity="0.4" transform="rotate(0 808.96 1211.33)"/>
<ellipse cx="820.74" cy="1220.49" rx="7.86" ry="5.24" fill="#d3d1be" stroke="#e4e4df" stroke-width="1.1" opacity="0.4" transform="rotate(0 820.74 1220.49)"/>
<ellipse cx="803.72" cy="1227.04" rx="7.86" ry="5.24" fill="#c4bd92" stroke="#a39b74" stroke-width="1.1" opacity="0.38" transform="rotate(20 803.72 1227.04)"/>
<ellipse cx="856.09" cy="1223.77" rx="7.86" ry="9.16" fill="#d3d1be" stroke="#e4e4df" stroke-width="1.1" opacity="0.4" transform="rotate(0 856.09 1223.77)"/>
<ellipse cx="835.14" cy="1230.97" rx="5.24" ry="7.86" fill="#d3d1be" stroke="#e4e4df" stroke-width="1.1" opacity="0.4" transform="rotate(0 835.14 1230.97)"/>
<ellipse cx="839.07" cy="1242.75" rx="5.89" ry="9.16" fill="#d3d1be" stroke="#e4e4df" stroke-width="1.1" opacity="0.4" transform="rotate(0 839.07 1242.75)"/>
<ellipse cx="879.66" cy="1244.06" rx="5.24" ry="11.78" fill="#d3d1be" stroke="#e4e4df" stroke-width="1.1" opacity="0.4" transform="rotate(-30 879.66 1244.06)"/>
<ellipse cx="894.06" cy="1237.51" rx="4.58" ry="11.78" fill="#d3d1be" stroke="#e4e4df" stroke-width="1.1" opacity="0.4" transform="rotate(-25 894.06 1237.51)"/>
<ellipse cx="899.29" cy="1261.08" rx="4.58" ry="11.78" fill="#d3d1be" stroke="#e4e4df" stroke-width="1.1" opacity="0.4" transform="rotate(-30 899.29 1261.08)"/>
<ellipse cx="739.57" cy="1250.61" rx="5.24" ry="15.71" fill="#d3d1be" stroke="#e4e4df" stroke-width="1.1" opacity="0.4" transform="rotate(5 739.57 1250.61)"/>
<ellipse cx="755.28" cy="1254.53" rx="5.24" ry="13.09" fill="#d3d1be" stroke="#e4e4df" stroke-width="1.1" opacity="0.4" transform="rotate(-20 755.28 1254.53)"/>
<ellipse cx="769.68" cy="1251.26" rx="5.24" ry="3.67" fill="#c4bd92" stroke="#a39b74" stroke-width="1.1" opacity="0.35" transform="rotate(0 769.68 1251.26)"/>
<ellipse cx="799.14" cy="1255.84" rx="5.24" ry="6.55" fill="#c4bd92" stroke="#a39b74" stroke-width="1.1" opacity="0.35" transform="rotate(0 799.14 1255.84)"/>
<ellipse cx="755.28" cy="1268.94" rx="5.24" ry="13.09" fill="#d3d1be" stroke="#e4e4df" stroke-width="1.1" opacity="0.4" transform="rotate(-25 755.28 1268.94)"/>
<ellipse cx="772.3" cy="1274.83" rx="3.93" ry="5.24" fill="#c4bd92" stroke="#a39b74" stroke-width="1.1" opacity="0.3" transform="rotate(0 772.3 1274.83)"/>
<ellipse cx="725.16" cy="1266.32" rx="3.93" ry="10.47" fill="#d3d1be" stroke="#e4e4df" stroke-width="1.1" opacity="0.4" transform="rotate(0 725.16 1266.32)"/>
<ellipse cx="816.81" cy="1272.86" rx="10.47" ry="5.24" fill="#d3d1be" stroke="#e4e4df" stroke-width="1.1" opacity="0.4" transform="rotate(-30 816.81 1272.86)"/>
<ellipse cx="791.94" cy="1276.79" rx="7.86" ry="6.55" fill="#d3d1be" stroke="#e4e4df" stroke-width="1.1" opacity="0.4" transform="rotate(0 791.94 1276.79)"/>
<ellipse cx="837.11" cy="1283.34" rx="6.55" ry="3.67" fill="#c4bd92" stroke="#a39b74" stroke-width="1.1" opacity="0.38" transform="rotate(20 837.11 1283.34)"/>
<ellipse cx="866.56" cy="1282.03" rx="5.24" ry="14.4" fill="#d3d1be" stroke="#e4e4df" stroke-width="1.1" opacity="0.4" transform="rotate(10 866.56 1282.03)"/>
<ellipse cx="753.97" cy="1285.96" rx="13.09" ry="5.89" fill="#d3d1be" stroke="#e4e4df" stroke-width="1.1" opacity="0.4" transform="rotate(25 753.97 1285.96)"/>
<ellipse cx="731.71" cy="1291.19" rx="5.24" ry="9.16" fill="#d3d1be" stroke="#e4e4df" stroke-width="1.1" opacity="0.4" transform="rotate(-20 731.71 1291.19)"/>
<ellipse cx="792.59" cy="1292.5" rx="7.2" ry="9.16" fill="#d3d1be" stroke="#e4e4df" stroke-width="1.1" opacity="0.4" transform="rotate(15 792.59 1292.5)"/>
<ellipse cx="812.88" cy="1299.05" rx="13.09" ry="5.24" fill="#d3d1be" stroke="#e4e4df" stroke-width="1.1" opacity="0.4" transform="rotate(-35 812.88 1299.05)"/>
<ellipse cx="835.14" cy="1296.43" rx="6.55" ry="9.16" fill="#d3d1be" stroke="#e4e4df" stroke-width="1.1" opacity="0.4" transform="rotate(20 835.14 1296.43)"/>
<ellipse cx="760.51" cy="1302.32" rx="20.95" ry="4.58" fill="#d3d1be" stroke="#e4e4df" stroke-width="1.1" opacity="0.4" transform="rotate(-5 760.51 1302.32)"/>
<ellipse cx="735.64" cy="1316.07" rx="13.09" ry="5.89" fill="#d3d1be" stroke="#e4e4df" stroke-width="1.1" opacity="0.4" transform="rotate(5 735.64 1316.07)"/>
<ellipse cx="810.27" cy="1320" rx="13.09" ry="5.24" fill="#d3d1be" stroke="#e4e4df" stroke-width="1.1" opacity="0.4" transform="rotate(-35 810.27 1320)"/>
<ellipse cx="839.07" cy="1323.92" rx="9.16" ry="7.86" fill="#d3d1be" stroke="#e4e4df" stroke-width="1.1" opacity="0.4" transform="rotate(0 839.07 1323.92)"/>
<ellipse cx="757.9" cy="1325.23" rx="14.4" ry="4.58" fill="#d3d1be" stroke="#e4e4df" stroke-width="1.1" opacity="0.4" transform="rotate(-10 757.9 1325.23)"/>
<ellipse cx="863.29" cy="1331.13" rx="4.58" ry="5.24" fill="#d3d1be" stroke="#e4e4df" stroke-width="1.1" opacity="0.4" transform="rotate(0 863.29 1331.13)"/>
<ellipse cx="918.28" cy="1331.13" rx="4.58" ry="6.55" fill="#d3d1be" stroke="#e4e4df" stroke-width="1.1" opacity="0.4" transform="rotate(0 918.28 1331.13)"/>
<ellipse cx="738.26" cy="1337.02" rx="14.4" ry="5.24" fill="#d3d1be" stroke="#e4e4df" stroke-width="1.1" opacity="0.4" transform="rotate(10 738.26 1337.02)"/>
<ellipse cx="795.21" cy="1342.91" rx="5.24" ry="5.24" fill="#c4bd92" stroke="#a39b74" stroke-width="1.1" opacity="0.38" transform="rotate(0 795.21 1342.91)"/>
<ellipse cx="755.28" cy="1343.56" rx="10.47" ry="5.24" fill="#d3d1be" stroke="#e4e4df" stroke-width="1.1" opacity="0.4" transform="rotate(0 755.28 1343.56)"/>
<ellipse cx="875.73" cy="1345.53" rx="3.93" ry="4.58" fill="#d3d1be" stroke="#e4e4df" stroke-width="1.1" opacity="0.4" transform="rotate(0 875.73 1345.53)"/>
<ellipse cx="886.86" cy="1348.15" rx="4.58" ry="5.89" fill="#d3d1be" stroke="#e4e4df" stroke-width="1.1" opacity="0.4" transform="rotate(0 886.86 1348.15)"/>
<ellipse cx="846.92" cy="1348.8" rx="14.4" ry="4.58" fill="#d3d1be" stroke="#e4e4df" stroke-width="1.1" opacity="0.4" transform="rotate(15 846.92 1348.8)"/>
<ellipse cx="784.08" cy="1357.96" rx="10.47" ry="5.24" fill="#d3d1be" stroke="#e4e4df" stroke-width="1.1" opacity="0.4" transform="rotate(-10 784.08 1357.96)"/>
<ellipse cx="824.67" cy="1359.27" rx="10.47" ry="5.24" fill="#d3d1be" stroke="#e4e4df" stroke-width="1.1" opacity="0.4" transform="rotate(25 824.67 1359.27)"/>
<ellipse cx="899.29" cy="1355.35" rx="7.86" ry="10.47" fill="#d3d1be" stroke="#e4e4df" stroke-width="1.1" opacity="0.4" transform="rotate(-30 899.29 1355.35)"/>
<ellipse cx="742.18" cy="1359.27" rx="19.64" ry="5.24" fill="#d3d1be" stroke="#e4e4df" stroke-width="1.1" opacity="0.4" transform="rotate(0 742.18 1359.27)"/>
<ellipse cx="736.95" cy="1373.68" rx="6.55" ry="5.24" fill="#d3d1be" stroke="#e4e4df" stroke-width="1.1" opacity="0.4" transform="rotate(0 736.95 1373.68)"/>
<ellipse cx="768.37" cy="1374.98" rx="11.78" ry="4.58" fill="#d3d1be" stroke="#e4e4df" stroke-width="1.1" opacity="0.4" transform="rotate(0 768.37 1374.98)"/>
<ellipse cx="815.5" cy="1373.68" rx="9.16" ry="5.24" fill="#d3d1be" stroke="#e4e4df" stroke-width="1.1" opacity="0.4" transform="rotate(30 815.5 1373.68)"/>
<ellipse cx="883.58" cy="1368.44" rx="10.47" ry="4.58" fill="#d3d1be" stroke="#e4e4df" stroke-width="1.1" opacity="0.4" transform="rotate(30 883.58 1368.44)"/>
</g></g>
<clipPath id="t4"><rect x="928.8" y="1010" width="200.3" height="181"/></clipPath>
<clipPath id="u4"><rect x="928.8" y="1198" width="200.3" height="181"/></clipPath>
<rect x="928.8" y="1010" width="200.3" height="181" fill="rgb(0,3,0)"/>
<g clip-path="url(#t4)"><g filter="url(#b2)">
<ellipse cx="992.7" cy="1019.4" rx="7.86" ry="5.24" fill="rgb(1,53,1)" transform="rotate(15 992.7 1019.4)"/>
<ellipse cx="958.66" cy="1022.02" rx="6.81" ry="12.96" fill="rgb(0,23,0)" opacity="0.8" transform="rotate(-25 958.66 1022.02)"/>
<ellipse cx="958.66" cy="1022.02" rx="3.74" ry="6.48" fill="rgb(0,31,0)" transform="rotate(-25 958.66 1022.02)"/>
<ellipse cx="1038.52" cy="1019.4" rx="4.58" ry="9.16" fill="rgb(0,31,0)" transform="rotate(0 1038.52 1019.4)"/>
<ellipse cx="1105.29" cy="1018.09" rx="10.47" ry="6.55" fill="rgb(0,31,0)" transform="rotate(-20 1105.29 1018.09)"/>
<ellipse cx="945.57" cy="1044.28" rx="6.81" ry="15.84" fill="rgb(0,23,0)" opacity="0.8" transform="rotate(-40 945.57 1044.28)"/>
<ellipse cx="945.57" cy="1044.28" rx="3.74" ry="7.92" fill="rgb(0,31,0)" transform="rotate(-40 945.57 1044.28)"/>
<ellipse cx="1033.29" cy="1046.9" rx="6.81" ry="12.96" fill="rgb(1,48,1)" opacity="0.8" transform="rotate(-15 1033.29 1046.9)"/>
<ellipse cx="1033.29" cy="1046.9" rx="3.74" ry="6.48" fill="rgb(2,65,2)" transform="rotate(-15 1033.29 1046.9)"/>
<ellipse cx="1051.62" cy="1052.13" rx="6.81" ry="14.4" fill="rgb(0,39,0)" opacity="0.8" transform="rotate(-15 1051.62 1052.13)"/>
<ellipse cx="1051.62" cy="1052.13" rx="3.74" ry="7.2" fill="rgb(1,53,1)" transform="rotate(-15 1051.62 1052.13)"/>
<ellipse cx="1117.08" cy="1056.06" rx="5.96" ry="11.52" fill="rgb(0,39,0)" opacity="0.8" transform="rotate(10 1117.08 1056.06)"/>
<ellipse cx="1117.08" cy="1056.06" rx="3.28" ry="5.76" fill="rgb(1,53,1)" transform="rotate(10 1117.08 1056.06)"/>
<ellipse cx="1109.22" cy="1066.53" rx="5.11" ry="11.52" fill="rgb(0,31,0)" opacity="0.8" transform="rotate(0 1109.22 1066.53)"/>
<ellipse cx="1109.22" cy="1066.53" rx="2.81" ry="5.76" fill="rgb(0,42,0)" transform="rotate(0 1109.22 1066.53)"/>
<ellipse cx="942.95" cy="1065.23" rx="6.81" ry="14.4" fill="rgb(0,31,0)" opacity="0.8" transform="rotate(-35 942.95 1065.23)"/>
<ellipse cx="942.95" cy="1065.23" rx="3.74" ry="7.2" fill="rgb(0,42,0)" transform="rotate(-35 942.95 1065.23)"/>
<ellipse cx="1000.55" cy="1069.15" rx="5.89" ry="11.78" fill="rgb(1,53,1)" transform="rotate(-30 1000.55 1069.15)"/>
<ellipse cx="975.68" cy="1077.01" rx="12.96" ry="6.81" fill="rgb(0,39,0)" opacity="0.8" transform="rotate(10 975.68 1077.01)"/>
<ellipse cx="975.68" cy="1077.01" rx="7.13" ry="3.4" fill="rgb(1,53,1)" transform="rotate(10 975.68 1077.01)"/>
<ellipse cx="1097.44" cy="1078.32" rx="5.96" ry="12.96" fill="rgb(1,48,1)" opacity="0.8" transform="rotate(-5 1097.44 1078.32)"/>
<ellipse cx="1097.44" cy="1078.32" rx="3.28" ry="6.48" fill="rgb(2,65,2)" transform="rotate(-5 1097.44 1078.32)"/>
<ellipse cx="1068.64" cy="1082.25" rx="5.11" ry="10.08" fill="rgb(0,39,0)" opacity="0.8" transform="rotate(-10 1068.64 1082.25)"/>
<ellipse cx="1068.64" cy="1082.25" rx="2.81" ry="5.04" fill="rgb(1,53,1)" transform="rotate(-10 1068.64 1082.25)"/>
<ellipse cx="1047.69" cy="1086.17" rx="6.81" ry="14.4" fill="rgb(0,31,0)" opacity="0.8" transform="rotate(-40 1047.69 1086.17)"/>
<ellipse cx="1047.69" cy="1086.17" rx="3.74" ry="7.2" fill="rgb(0,42,0)" transform="rotate(-40 1047.69 1086.17)"/>
<ellipse cx="954.73" cy="1095.34" rx="11.52" ry="5.11" fill="rgb(1,48,1)" opacity="0.8" transform="rotate(-10 954.73 1095.34)"/>
<ellipse cx="954.73" cy="1095.34" rx="6.34" ry="2.55" fill="rgb(2,65,2)" transform="rotate(-10 954.73 1095.34)"/>
<ellipse cx="1004.48" cy="1096.65" rx="5.96" ry="12.96" fill="rgb(1,57,1)" opacity="0.8" transform="rotate(15 1004.48 1096.65)"/>
<ellipse cx="1004.48" cy="1096.65" rx="3.28" ry="6.48" fill="rgb(3,77,3)" transform="rotate(15 1004.48 1096.65)"/>
<ellipse cx="993.35" cy="1107.12" rx="5.96" ry="14.4" fill="rgb(0,39,0)" opacity="0.8" transform="rotate(10 993.35 1107.12)"/>
<ellipse cx="993.35" cy="1107.12" rx="3.28" ry="7.2" fill="rgb(1,53,1)" transform="rotate(10 993.35 1107.12)"/>
<ellipse cx="963.9" cy="1108.43" rx="12.96" ry="5.96" fill="rgb(0,31,0)" opacity="0.8" transform="rotate(-30 963.9 1108.43)"/>
<ellipse cx="963.9" cy="1108.43" rx="7.13" ry="2.98" fill="rgb(0,42,0)" transform="rotate(-30 963.9 1108.43)"/>
<ellipse cx="1017.57" cy="1114.98" rx="6.81" ry="14.4" fill="rgb(1,48,1)" opacity="0.8" transform="rotate(-10 1017.57 1114.98)"/>
<ellipse cx="1017.57" cy="1114.98" rx="3.74" ry="7.2" fill="rgb(2,65,2)" transform="rotate(-10 1017.57 1114.98)"/>
<ellipse cx="1054.89" cy="1114.32" rx="7.2" ry="5.24" fill="rgb(8,117,9)" transform="rotate(0 1054.89 1114.32)"/>
<ellipse cx="1077.8" cy="1114.32" rx="7.2" ry="3.67" fill="rgb(6,103,7)" transform="rotate(0 1077.8 1114.32)"/>
<ellipse cx="980.26" cy="1124.14" rx="6.81" ry="14.4" fill="rgb(1,48,1)" opacity="0.8" transform="rotate(15 980.26 1124.14)"/>
<ellipse cx="980.26" cy="1124.14" rx="3.74" ry="7.2" fill="rgb(2,65,2)" transform="rotate(15 980.26 1124.14)"/>
<ellipse cx="963.9" cy="1131.34" rx="4.58" ry="8.51" fill="rgb(3,77,3)" transform="rotate(-10 963.9 1131.34)"/>
<ellipse cx="1051.62" cy="1129.38" rx="12.96" ry="6.81" fill="rgb(0,31,0)" opacity="0.8" transform="rotate(25 1051.62 1129.38)"/>
<ellipse cx="1051.62" cy="1129.38" rx="7.13" ry="3.4" fill="rgb(0,42,0)" transform="rotate(25 1051.62 1129.38)"/>
<ellipse cx="949.49" cy="1140.51" rx="4.58" ry="8.51" fill="rgb(10,131,12)" transform="rotate(0 949.49 1140.51)"/>
<ellipse cx="1009.72" cy="1137.23" rx="6.81" ry="14.4" fill="rgb(0,39,0)" opacity="0.8" transform="rotate(-20 1009.72 1137.23)"/>
<ellipse cx="1009.72" cy="1137.23" rx="3.74" ry="7.2" fill="rgb(1,53,1)" transform="rotate(-20 1009.72 1137.23)"/>
<ellipse cx="1031.98" cy="1143.78" rx="5.24" ry="10.47" fill="rgb(3,77,3)" transform="rotate(-25 1031.98 1143.78)"/>
<ellipse cx="1084.35" cy="1141.82" rx="12.96" ry="4.77" fill="rgb(2,67,2)" opacity="0.8" transform="rotate(15 1084.35 1141.82)"/>
<ellipse cx="1084.35" cy="1141.82" rx="7.13" ry="2.38" fill="rgb(4,90,5)" transform="rotate(15 1084.35 1141.82)"/>
<ellipse cx="990.74" cy="1154.25" rx="5.11" ry="11.52" fill="rgb(0,39,0)" opacity="0.8" transform="rotate(10 990.74 1154.25)"/>
<ellipse cx="990.74" cy="1154.25" rx="2.81" ry="5.76" fill="rgb(1,53,1)" transform="rotate(10 990.74 1154.25)"/>
<ellipse cx="969.13" cy="1159.49" rx="5.24" ry="10.47" fill="rgb(0,42,0)" transform="rotate(-20 969.13 1159.49)"/>
<ellipse cx="1003.17" cy="1167.35" rx="5.96" ry="12.96" fill="rgb(1,48,1)" opacity="0.8" transform="rotate(-15 1003.17 1167.35)"/>
<ellipse cx="1003.17" cy="1167.35" rx="3.28" ry="6.48" fill="rgb(2,65,2)" transform="rotate(-15 1003.17 1167.35)"/>
<ellipse cx="1016.27" cy="1167.35" rx="6.81" ry="12.96" fill="rgb(1,57,1)" opacity="0.8" transform="rotate(-35 1016.27 1167.35)"/>
<ellipse cx="1016.27" cy="1167.35" rx="3.74" ry="6.48" fill="rgb(3,77,3)" transform="rotate(-35 1016.27 1167.35)"/>
<ellipse cx="1115.77" cy="1168.66" rx="6.55" ry="10.47" fill="rgb(2,65,2)" transform="rotate(-35 1115.77 1168.66)"/>
<ellipse cx="969.13" cy="1180.44" rx="5.89" ry="10.47" fill="rgb(3,77,3)" transform="rotate(0 969.13 1180.44)"/>
<ellipse cx="1045.07" cy="1179.13" rx="6.81" ry="12.96" fill="rgb(0,23,0)" opacity="0.8" transform="rotate(-25 1045.07 1179.13)"/>
<ellipse cx="1045.07" cy="1179.13" rx="3.74" ry="6.48" fill="rgb(0,31,0)" transform="rotate(-25 1045.07 1179.13)"/>
<ellipse cx="1017.57" cy="1186.98" rx="6.55" ry="3.93" fill="rgb(0,42,0)" transform="rotate(0 1017.57 1186.98)"/>
<ellipse cx="1122.31" cy="1185.68" rx="6.55" ry="3.93" fill="rgb(0,42,0)" transform="rotate(0 1122.31 1185.68)"/>
</g></g>
<rect x="928.8" y="1198" width="200.3" height="181" fill="url(#bfg)"/>
<g clip-path="url(#u4)"><g filter="url(#b1)">
<ellipse cx="992.7" cy="1207.4" rx="7.86" ry="5.24" fill="#d3d1be" stroke="#e4e4df" stroke-width="1.1" opacity="0.4" transform="rotate(15 992.7 1207.4)"/>
<ellipse cx="958.66" cy="1210.02" rx="5.24" ry="11.78" fill="#d3d1be" stroke="#e4e4df" stroke-width="1.1" opacity="0.4" transform="rotate(-25 958.66 1210.02)"/>
<ellipse cx="1038.52" cy="1207.4" rx="4.58" ry="9.16" fill="#d3d1be" stroke="#e4e4df" stroke-width="1.1" opacity="0.4" transform="rotate(0 1038.52 1207.4)"/>
<ellipse cx="1105.29" cy="1206.09" rx="10.47" ry="6.55" fill="#d3d1be" stroke="#e4e4df" stroke-width="1.1" opacity="0.4" transform="rotate(-20 1105.29 1206.09)"/>
<ellipse cx="945.57" cy="1232.28" rx="5.24" ry="14.4" fill="#d3d1be" stroke="#e4e4df" stroke-width="1.1" opacity="0.4" transform="rotate(-40 945.57 1232.28)"/>
<ellipse cx="1033.29" cy="1234.9" rx="5.24" ry="11.78" fill="#d3d1be" stroke="#e4e4df" stroke-width="1.1" opacity="0.4" transform="rotate(-15 1033.29 1234.9)"/>
<ellipse cx="1051.62" cy="1240.13" rx="5.24" ry="13.09" fill="#d3d1be" stroke="#e4e4df" stroke-width="1.1" opacity="0.4" transform="rotate(-15 1051.62 1240.13)"/>
<ellipse cx="1117.08" cy="1244.06" rx="4.58" ry="10.47" fill="#d3d1be" stroke="#e4e4df" stroke-width="1.1" opacity="0.4" transform="rotate(10 1117.08 1244.06)"/>
<ellipse cx="1109.22" cy="1254.53" rx="3.93" ry="10.47" fill="#d3d1be" stroke="#e4e4df" stroke-width="1.1" opacity="0.4" transform="rotate(0 1109.22 1254.53)"/>
<ellipse cx="942.95" cy="1253.23" rx="5.24" ry="13.09" fill="#d3d1be" stroke="#e4e4df" stroke-width="1.1" opacity="0.4" transform="rotate(-35 942.95 1253.23)"/>
<ellipse cx="1000.55" cy="1257.15" rx="5.89" ry="11.78" fill="#d3d1be" stroke="#e4e4df" stroke-width="1.1" opacity="0.4" transform="rotate(-30 1000.55 1257.15)"/>
<ellipse cx="975.68" cy="1265.01" rx="11.78" ry="5.24" fill="#d3d1be" stroke="#e4e4df" stroke-width="1.1" opacity="0.4" transform="rotate(10 975.68 1265.01)"/>
<ellipse cx="1097.44" cy="1266.32" rx="4.58" ry="11.78" fill="#d3d1be" stroke="#e4e4df" stroke-width="1.1" opacity="0.4" transform="rotate(-5 1097.44 1266.32)"/>
<ellipse cx="1068.64" cy="1270.25" rx="3.93" ry="9.16" fill="#d3d1be" stroke="#e4e4df" stroke-width="1.1" opacity="0.4" transform="rotate(-10 1068.64 1270.25)"/>
<ellipse cx="1047.69" cy="1274.17" rx="5.24" ry="13.09" fill="#d3d1be" stroke="#e4e4df" stroke-width="1.1" opacity="0.4" transform="rotate(-40 1047.69 1274.17)"/>
<ellipse cx="954.73" cy="1283.34" rx="10.47" ry="3.93" fill="#d3d1be" stroke="#e4e4df" stroke-width="1.1" opacity="0.4" transform="rotate(-10 954.73 1283.34)"/>
<ellipse cx="1004.48" cy="1284.65" rx="4.58" ry="11.78" fill="#d3d1be" stroke="#e4e4df" stroke-width="1.1" opacity="0.4" transform="rotate(15 1004.48 1284.65)"/>
<ellipse cx="993.35" cy="1295.12" rx="4.58" ry="13.09" fill="#d3d1be" stroke="#e4e4df" stroke-width="1.1" opacity="0.4" transform="rotate(10 993.35 1295.12)"/>
<ellipse cx="963.9" cy="1296.43" rx="11.78" ry="4.58" fill="#d3d1be" stroke="#e4e4df" stroke-width="1.1" opacity="0.4" transform="rotate(-30 963.9 1296.43)"/>
<ellipse cx="1017.57" cy="1302.98" rx="5.24" ry="13.09" fill="#d3d1be" stroke="#e4e4df" stroke-width="1.1" opacity="0.4" transform="rotate(-10 1017.57 1302.98)"/>
<ellipse cx="1054.89" cy="1302.32" rx="7.2" ry="5.24" fill="#d3d1be" stroke="#e4e4df" stroke-width="1.1" opacity="0.4" transform="rotate(0 1054.89 1302.32)"/>
<ellipse cx="1077.8" cy="1302.32" rx="7.2" ry="3.67" fill="#d3d1be" stroke="#e4e4df" stroke-width="1.1" opacity="0.4" transform="rotate(0 1077.8 1302.32)"/>
<ellipse cx="980.26" cy="1312.14" rx="5.24" ry="13.09" fill="#d3d1be" stroke="#e4e4df" stroke-width="1.1" opacity="0.4" transform="rotate(15 980.26 1312.14)"/>
<ellipse cx="963.9" cy="1319.34" rx="4.58" ry="8.51" fill="#d3d1be" stroke="#e4e4df" stroke-width="1.1" opacity="0.4" transform="rotate(-10 963.9 1319.34)"/>
<ellipse cx="1051.62" cy="1317.38" rx="11.78" ry="5.24" fill="#d3d1be" stroke="#e4e4df" stroke-width="1.1" opacity="0.4" transform="rotate(25 1051.62 1317.38)"/>
<ellipse cx="949.49" cy="1328.51" rx="4.58" ry="8.51" fill="#c4bd92" stroke="#a39b74" stroke-width="1.1" opacity="0.3" transform="rotate(0 949.49 1328.51)"/>
<ellipse cx="1009.72" cy="1325.23" rx="5.24" ry="13.09" fill="#d3d1be" stroke="#e4e4df" stroke-width="1.1" opacity="0.4" transform="rotate(-20 1009.72 1325.23)"/>
<ellipse cx="1031.98" cy="1331.78" rx="5.24" ry="10.47" fill="#d3d1be" stroke="#e4e4df" stroke-width="1.1" opacity="0.4" transform="rotate(-25 1031.98 1331.78)"/>
<ellipse cx="1084.35" cy="1329.82" rx="11.78" ry="3.67" fill="#d3d1be" stroke="#e4e4df" stroke-width="1.1" opacity="0.4" transform="rotate(15 1084.35 1329.82)"/>
<ellipse cx="990.74" cy="1342.25" rx="3.93" ry="10.47" fill="#d3d1be" stroke="#e4e4df" stroke-width="1.1" opacity="0.4" transform="rotate(10 990.74 1342.25)"/>
<ellipse cx="969.13" cy="1347.49" rx="5.24" ry="10.47" fill="#d3d1be" stroke="#e4e4df" stroke-width="1.1" opacity="0.4" transform="rotate(-20 969.13 1347.49)"/>
<ellipse cx="1003.17" cy="1355.35" rx="4.58" ry="11.78" fill="#d3d1be" stroke="#e4e4df" stroke-width="1.1" opacity="0.4" transform="rotate(-15 1003.17 1355.35)"/>
<ellipse cx="1016.27" cy="1355.35" rx="5.24" ry="11.78" fill="#d3d1be" stroke="#e4e4df" stroke-width="1.1" opacity="0.4" transform="rotate(-35 1016.27 1355.35)"/>
<ellipse cx="1115.77" cy="1356.66" rx="6.55" ry="10.47" fill="#d3d1be" stroke="#e4e4df" stroke-width="1.1" opacity="0.4" transform="rotate(-35 1115.77 1356.66)"/>
<ellipse cx="969.13" cy="1368.44" rx="5.89" ry="10.47" fill="#d3d1be" stroke="#e4e4df" stroke-width="1.1" opacity="0.4" transform="rotate(0 969.13 1368.44)"/>
<ellipse cx="1045.07" cy="1367.13" rx="5.24" ry="11.78" fill="#d3d1be" stroke="#e4e4df" stroke-width="1.1" opacity="0.4" transform="rotate(-25 1045.07 1367.13)"/>
<ellipse cx="1017.57" cy="1374.98" rx="6.55" ry="3.93" fill="#d3d1be" stroke="#e4e4df" stroke-width="1.1" opacity="0.4" transform="rotate(0 1017.57 1374.98)"/>
<ellipse cx="1122.31" cy="1373.68" rx="6.55" ry="3.93" fill="#d3d1be" stroke="#e4e4df" stroke-width="1.1" opacity="0.4" transform="rotate(0 1122.31 1373.68)"/>
</g></g>
<text x="122.1" y="1051.6" font-size="32.5" font-weight="700" fill="#fff">I</text>
<text x="328.2" y="1051.6" font-size="32.5" font-weight="700" fill="#fff">II</text>
<text x="534.7" y="1051.6" font-size="32.5" font-weight="700" fill="#fff">III</text>
<text x="741.5" y="1051.6" font-size="32.5" font-weight="700" fill="#fff">IV</text>
<text x="947.8" y="1051.6" font-size="32.5" font-weight="700" fill="#fff">V</text>
<rect x="1034.1" y="1358.6" width="70.4" height="8.4" fill="#fff"/>
<text x="1070" y="1347.9" font-size="28" text-anchor="middle" font-weight="700" fill="#fff">100 μm</text>
<text x="43" y="1112" font-size="29.5" text-anchor="middle" font-weight="700">DCF</text>
<text x="43.5" y="1281.2" font-size="29.5" text-anchor="middle" font-weight="700">Bright</text>
<text x="43" y="1317.6" font-size="29.5" text-anchor="middle" font-weight="700">field</text>
<text x="9.2" y="1410" font-size="31.3" font-weight="700" text-anchor="start">H<tspan font-size="19.6" dy="7.5">2</tspan><tspan dy="-7.5">O</tspan><tspan font-size="19.6" dy="7.5">2</tspan></text>
<text x="7.6" y="1450.3" font-size="31.3" font-weight="700">MF-0</text>
<text x="204.3" y="1408.6" font-size="34" text-anchor="middle" font-weight="700">-</text>
<text x="204.3" y="1448.6" font-size="34" text-anchor="middle" font-weight="700">-</text>
<text x="409.5" y="1410.2" font-size="34" text-anchor="middle" font-weight="700">+</text>
<text x="409.5" y="1448.6" font-size="34" text-anchor="middle" font-weight="700">-</text>
<text x="615.2" y="1410.2" font-size="34" text-anchor="middle" font-weight="700">+</text>
<text x="615.2" y="1450.5" font-size="31.3" text-anchor="middle" font-weight="700">20</text>
<text x="822.3" y="1410.2" font-size="34" text-anchor="middle" font-weight="700">+</text>
<text x="822.3" y="1450.5" font-size="31.3" text-anchor="middle" font-weight="700">50</text>
<text x="1028" y="1410.2" font-size="34" text-anchor="middle" font-weight="700">+</text>
<text x="1028" y="1450.5" font-size="31.3" text-anchor="middle" font-weight="700">80</text>
</svg>
</body></html>
